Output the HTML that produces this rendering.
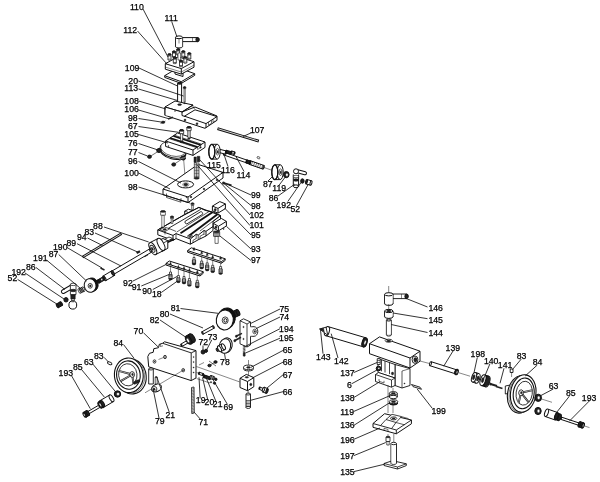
<!DOCTYPE html>
<html><head><meta charset="utf-8"><title>Parts diagram</title>
<style>
html,body{margin:0;padding:0;background:#fff}
svg{display:block;will-change:transform;filter:blur(0.4px)}
text{font-family:"Liberation Sans",sans-serif;font-size:8.7px;fill:#000;stroke:#000;stroke-width:0.25px}
</style></head><body>
<svg width="600" height="482" viewBox="0 0 600 482">
<rect width="600" height="482" fill="#fff"/>
<path d="M179 46L179 53" stroke="#111" stroke-width="0.5" fill="none"/>
<path d="M181 37.6L197.5 37.6L197.5 41.6L181 41.6Z" stroke="#111" stroke-width="1.0" fill="#fff" stroke-linejoin="round"/>
<ellipse cx="197.6" cy="39.6" rx="1.7" ry="2.1" fill="#222" stroke="#111" stroke-width="1.0"/>
<path d="M192.5 37.6L192.5 41.6" stroke="#111" stroke-width="0.5" fill="none"/>
<path d="M175.5 37.3L182.6 37.3L182.6 46.6L175.5 46.6Z" stroke="#111" stroke-width="0" fill="#fff" stroke-linejoin="round"/>
<path d="M175.5 37.3L175.5 46.6" stroke="#111" stroke-width="1.0" fill="none"/>
<path d="M182.6 37.3L182.6 46.6" stroke="#111" stroke-width="1.0" fill="none"/>
<ellipse cx="179" cy="46.6" rx="3.5" ry="1.4" fill="#fff" stroke="#111" stroke-width="1.0"/>
<path d="M175.9 37.5L182.2 37.5L182.2 46.3L175.9 46.3Z" stroke="#111" stroke-width="0" fill="#fff" stroke-linejoin="round"/>
<ellipse cx="179" cy="37.3" rx="3.5" ry="1.4" fill="#fff" stroke="#111" stroke-width="1.0"/>
<path d="M179 39L179 43.5" stroke="#111" stroke-width="0.5" fill="none"/>
<path d="M164.7 75.7L178.1 67.7L194.7 73.7L194.7 75.4L181.3 83.4L164.7 77.4Z" stroke="#111" stroke-width="1.0" fill="#fff" stroke-linejoin="round"/>
<path d="M164.7 75.7L181.3 81.7L194.7 73.7" stroke="#111" stroke-width="1.0" fill="none" stroke-linejoin="round"/>
<path d="M181.3 81.7L181.3 83.4" stroke="#111" stroke-width="1.0" fill="none"/>
<path d="M175 70L183 72.5L183 76.5L175 74Z" stroke="#111" stroke-width="1.0" fill="#fff" stroke-linejoin="round"/>
<path d="M165.3 63.7L178 56.8L194 61.7L194 67.2L181.3 74.1L165.3 69.2Z" stroke="#111" stroke-width="1.0" fill="#fff" stroke-linejoin="round"/>
<path d="M165.3 63.7L181.3 68.6L194 61.7" stroke="#111" stroke-width="1.0" fill="none" stroke-linejoin="round"/>
<path d="M181.3 68.6L181.3 74.1" stroke="#111" stroke-width="1.0" fill="none"/>
<path d="M181.3 72L194 65.1" stroke="#111" stroke-width="0.5" fill="none"/>
<path d="M165.3 67.1L181.3 72" stroke="#111" stroke-width="0.5" fill="none"/>
<path d="M176.7 49.5L179.7 49.5L179.7 54.8L176.7 54.8Z" stroke="#111" stroke-width="0.8" fill="#fff" stroke-linejoin="round"/>
<ellipse cx="178.2" cy="54.8" rx="1.5" ry="0.6" fill="#fff" stroke="#111" stroke-width="0.6"/>
<ellipse cx="178.2" cy="49.5" rx="1.5" ry="0.9" fill="#222" stroke="#111" stroke-width="0.8"/>
<path d="M176.7 51.1L179.7 51.1" stroke="#111" stroke-width="0.5" fill="none"/>
<path d="M172.5 51.7L175.5 51.7L175.5 57L172.5 57Z" stroke="#111" stroke-width="0.8" fill="#fff" stroke-linejoin="round"/>
<ellipse cx="174" cy="57" rx="1.5" ry="0.6" fill="#fff" stroke="#111" stroke-width="0.6"/>
<ellipse cx="174" cy="51.7" rx="1.5" ry="0.9" fill="#222" stroke="#111" stroke-width="0.8"/>
<path d="M172.5 53.3L175.5 53.3" stroke="#111" stroke-width="0.5" fill="none"/>
<path d="M181.8 51.5L184.8 51.5L184.8 56.8L181.8 56.8Z" stroke="#111" stroke-width="0.8" fill="#fff" stroke-linejoin="round"/>
<ellipse cx="183.3" cy="56.8" rx="1.5" ry="0.6" fill="#fff" stroke="#111" stroke-width="0.6"/>
<ellipse cx="183.3" cy="51.5" rx="1.5" ry="0.9" fill="#222" stroke="#111" stroke-width="0.8"/>
<path d="M181.8 53.1L184.8 53.1" stroke="#111" stroke-width="0.5" fill="none"/>
<path d="M168 54.4L171 54.4L171 59.7L168 59.7Z" stroke="#111" stroke-width="0.8" fill="#fff" stroke-linejoin="round"/>
<ellipse cx="169.5" cy="59.7" rx="1.5" ry="0.6" fill="#fff" stroke="#111" stroke-width="0.6"/>
<ellipse cx="169.5" cy="54.4" rx="1.5" ry="0.9" fill="#222" stroke="#111" stroke-width="0.8"/>
<path d="M168 56L171 56" stroke="#111" stroke-width="0.5" fill="none"/>
<path d="M187.8 53.5L190.8 53.5L190.8 58.8L187.8 58.8Z" stroke="#111" stroke-width="0.8" fill="#fff" stroke-linejoin="round"/>
<ellipse cx="189.3" cy="58.8" rx="1.5" ry="0.6" fill="#fff" stroke="#111" stroke-width="0.6"/>
<ellipse cx="189.3" cy="53.5" rx="1.5" ry="0.9" fill="#222" stroke="#111" stroke-width="0.8"/>
<path d="M187.8 55.1L190.8 55.1" stroke="#111" stroke-width="0.5" fill="none"/>
<path d="M173.3 57.8L176.3 57.8L176.3 63.1L173.3 63.1Z" stroke="#111" stroke-width="0.8" fill="#fff" stroke-linejoin="round"/>
<ellipse cx="174.8" cy="63.1" rx="1.5" ry="0.6" fill="#fff" stroke="#111" stroke-width="0.6"/>
<ellipse cx="174.8" cy="57.8" rx="1.5" ry="0.9" fill="#222" stroke="#111" stroke-width="0.8"/>
<path d="M173.3 59.4L176.3 59.4" stroke="#111" stroke-width="0.5" fill="none"/>
<path d="M183.8 57.4L186.8 57.4L186.8 62.7L183.8 62.7Z" stroke="#111" stroke-width="0.8" fill="#fff" stroke-linejoin="round"/>
<ellipse cx="185.3" cy="62.7" rx="1.5" ry="0.6" fill="#fff" stroke="#111" stroke-width="0.6"/>
<ellipse cx="185.3" cy="57.4" rx="1.5" ry="0.9" fill="#222" stroke="#111" stroke-width="0.8"/>
<path d="M183.8 59L186.8 59" stroke="#111" stroke-width="0.5" fill="none"/>
<path d="M179.5 60.9L182.5 60.9L182.5 66.2L179.5 66.2Z" stroke="#111" stroke-width="0.8" fill="#fff" stroke-linejoin="round"/>
<ellipse cx="181" cy="66.2" rx="1.5" ry="0.6" fill="#fff" stroke="#111" stroke-width="0.6"/>
<ellipse cx="181" cy="60.9" rx="1.5" ry="0.9" fill="#222" stroke="#111" stroke-width="0.8"/>
<path d="M179.5 62.5L182.5 62.5" stroke="#111" stroke-width="0.5" fill="none"/>
<path d="M178 53L180.6 53L180.6 60L178 60Z" stroke="#111" stroke-width="0.6" fill="#fff" stroke-linejoin="round"/>
<path d="M177.6 83.3L181.6 83.3L181.6 104L177.6 104Z" stroke="#111" stroke-width="0" fill="#fff" stroke-linejoin="round"/>
<path d="M177.6 83.3L177.6 104" stroke="#111" stroke-width="1.0" fill="none"/>
<path d="M181.6 83.3L181.6 104" stroke="#111" stroke-width="1.0" fill="none"/>
<ellipse cx="179.6" cy="83.3" rx="2" ry="0.9" fill="#222" stroke="#111" stroke-width="1.0"/>
<path d="M184 88.6L185.2 88.6L185.2 102L184 102Z" stroke="#111" stroke-width="0.6" fill="#fff" stroke-linejoin="round"/>
<path d="M183.4 87.4L185.8 87.4L185.8 88.6L183.4 88.6Z" stroke="#111" stroke-width="0.6" fill="#fff" stroke-linejoin="round"/>
<ellipse cx="184.6" cy="87.4" rx="1.2" ry="0.9" fill="#222" stroke="#111" stroke-width="0.6"/>
<path d="M182 112L195 107L217 116L217 120.3L205 128.3L165 115.3L165 107Z" stroke="#111" stroke-width="1.0" fill="#fff" stroke-linejoin="round"/>
<path d="M165 107L175 101L193 105L182 112Z" stroke="#111" stroke-width="1.0" fill="#fff" stroke-linejoin="round"/>
<path d="M165 107L182 112L182 116.5L165 115.3Z" stroke="#111" stroke-width="0" fill="#fff" stroke-linejoin="round"/>
<path d="M165 107L182 112L193 105" stroke="#111" stroke-width="1.0" fill="none" stroke-linejoin="round"/>
<path d="M182 112L182 115.5L185 116.5" stroke="#111" stroke-width="1.0" fill="none" stroke-linejoin="round"/>
<path d="M193 105L193 107.7L195 108.3" stroke="#111" stroke-width="0.6" fill="none" stroke-linejoin="round"/>
<path d="M184.5 116.2L195 109.8L217 116.6L206 123.6L184.5 116.2" stroke="#111" stroke-width="1.0" fill="none" stroke-linejoin="round"/>
<path d="M206 123.6L206 128" stroke="#111" stroke-width="1.0" fill="none"/>
<path d="M165 107L165 115.3" stroke="#111" stroke-width="1.0" fill="none"/>
<path d="M208.5 122L208.5 125.2L211.5 123.3L211.5 120.3" stroke="#111" stroke-width="0.6" fill="none" stroke-linejoin="round"/>
<path d="M213 119.2L213 122.4L215.3 120.8" stroke="#111" stroke-width="0.6" fill="none" stroke-linejoin="round"/>
<ellipse cx="185" cy="120" rx="1" ry="1" fill="#222" stroke="#111" stroke-width="0.4"/>
<ellipse cx="197" cy="123.7" rx="1" ry="1" fill="#222" stroke="#111" stroke-width="0.4"/>
<ellipse cx="179.6" cy="104.6" rx="2" ry="0.9" fill="#222" stroke="#111" stroke-width="0.5"/>
<ellipse cx="184.6" cy="103.2" rx="1" ry="0.5" fill="#222" stroke="#111" stroke-width="0.4"/>
<ellipse cx="175" cy="111" rx="0.5" ry="0.5" fill="#222" stroke="#111" stroke-width="0.3"/>
<ellipse cx="163" cy="122.3" rx="1.8" ry="1.3" fill="#222" stroke="#111" stroke-width="0.4"/>
<path d="M160.5 123.5L165.5 121" stroke="#111" stroke-width="0.6" fill="none"/>
<path d="M168 119L173 117.2" stroke="#222" stroke-width="1.6" fill="none"/>
<path d="M217.5 128.6L258.8 141.2" stroke="#111" stroke-width="2.8" fill="none"/>
<path d="M218.3 128.8L258 140.9" stroke="#e8e8e8" stroke-width="0.9" fill="none"/>
<path d="M180.6 133.6L182.6 133.6L182.6 140L180.6 140Z" stroke="#111" stroke-width="0.6" fill="#fff" stroke-linejoin="round"/>
<path d="M179.6 130.4L183.6 130.4L183.6 133.6L179.6 133.6Z" stroke="#111" stroke-width="0.6" fill="#fff" stroke-linejoin="round"/>
<ellipse cx="181.6" cy="130.4" rx="2" ry="0.9" fill="#222" stroke="#111" stroke-width="0.6"/>
<path d="M188 130.6L190 130.6L190 137L188 137Z" stroke="#111" stroke-width="0.6" fill="#fff" stroke-linejoin="round"/>
<path d="M187 127.4L191 127.4L191 130.6L187 130.6Z" stroke="#111" stroke-width="0.6" fill="#fff" stroke-linejoin="round"/>
<ellipse cx="189" cy="127.4" rx="2" ry="0.9" fill="#222" stroke="#111" stroke-width="0.6"/>
<ellipse cx="173" cy="151.6" rx="13.2" ry="7.4" fill="#fff" stroke="#111" stroke-width="1.0" transform="rotate(14 173 151.6)"/>
<ellipse cx="173" cy="150.3" rx="13.2" ry="7.4" fill="#fff" stroke="#111" stroke-width="1.0" transform="rotate(14 173 150.3)"/>
<ellipse cx="173" cy="149" rx="12.6" ry="7" fill="#fff" stroke="#111" stroke-width="0.6" transform="rotate(14 173 149)"/>
<ellipse cx="159" cy="150.5" rx="2.3" ry="2" fill="#222" stroke="#111" stroke-width="1.0"/>
<ellipse cx="183.2" cy="158" rx="2.3" ry="2" fill="#222" stroke="#111" stroke-width="1.0"/>
<path d="M181 158.5L185.5 157.5" stroke="#fff" stroke-width="0.5" fill="none"/>
<path d="M150 156.5L158 151.5" stroke="#111" stroke-width="0.6" fill="none"/>
<ellipse cx="149.5" cy="156.7" rx="1.9" ry="1.6" fill="#222" stroke="#111" stroke-width="1.0"/>
<path d="M174 164.3L182 159" stroke="#111" stroke-width="0.6" fill="none"/>
<ellipse cx="173.7" cy="164.5" rx="1.9" ry="1.6" fill="#222" stroke="#111" stroke-width="1.0"/>
<path d="M165.6 141L177.6 133L205 142L205 147.4L193 155.4L165.6 146.4Z" stroke="#111" stroke-width="1.0" fill="#fff" stroke-linejoin="round"/>
<path d="M165.6 141L193 150L205 142" stroke="#111" stroke-width="1.0" fill="none" stroke-linejoin="round"/>
<path d="M193 150L193 155.4" stroke="#111" stroke-width="1.0" fill="none"/>
<path d="M169.2 138.6L196.6 147.6" stroke="#111" stroke-width="0.7" fill="none"/>
<path d="M170.2 138L197.6 147" stroke="#111" stroke-width="1.6" fill="none"/>
<path d="M173.3 135.9L200.7 144.9" stroke="#111" stroke-width="1.6" fill="none"/>
<path d="M174.2 135.2L201.6 144.2" stroke="#111" stroke-width="0.7" fill="none"/>
<path d="M197.6 147L197.6 149.5L200.7 147.4L200.7 144.9" stroke="#111" stroke-width="0.6" fill="none" stroke-linejoin="round"/>
<ellipse cx="200.5" cy="147.5" rx="0.8" ry="0.8" fill="#222" stroke="#111" stroke-width="0.3"/>
<ellipse cx="168.5" cy="146" rx="0.6" ry="0.6" fill="#222" stroke="#111" stroke-width="0.3"/>
<path d="M180.6 133.6L182.6 133.6L182.6 141L180.6 141Z" stroke="#111" stroke-width="0.6" fill="#fff" stroke-linejoin="round"/>
<path d="M179.6 130.4L183.6 130.4L183.6 133.6L179.6 133.6Z" stroke="#111" stroke-width="0.6" fill="#fff" stroke-linejoin="round"/>
<ellipse cx="181.6" cy="130.4" rx="2" ry="0.9" fill="#222" stroke="#111" stroke-width="0.6"/>
<path d="M188 130.6L190 130.6L190 138L188 138Z" stroke="#111" stroke-width="0.6" fill="#fff" stroke-linejoin="round"/>
<path d="M187 127.4L191 127.4L191 130.6L187 130.6Z" stroke="#111" stroke-width="0.6" fill="#fff" stroke-linejoin="round"/>
<ellipse cx="189" cy="127.4" rx="2" ry="0.9" fill="#222" stroke="#111" stroke-width="0.6"/>
<ellipse cx="181.6" cy="141.8" rx="1.7" ry="0.9" fill="#222" stroke="#111" stroke-width="0.4"/>
<ellipse cx="189" cy="138.6" rx="1.4" ry="0.7" fill="#222" stroke="#111" stroke-width="0.4"/>
<path d="M183.7 160L185.6 183" stroke="#111" stroke-width="0.5" fill="none"/>
<path d="M163 189L198 164.4L223 172.4L223 178L188 202.6L163 194.6Z" stroke="#111" stroke-width="1.0" fill="#fff" stroke-linejoin="round"/>
<path d="M163 189L188 197L223 172.4" stroke="#111" stroke-width="1.0" fill="none" stroke-linejoin="round"/>
<path d="M188 197L188 202.6" stroke="#111" stroke-width="1.0" fill="none"/>
<path d="M166.5 193.5L166.5 197.5L181 202.2L181 198.2" stroke="#111" stroke-width="0.7" fill="none" stroke-linejoin="round"/>
<ellipse cx="185.6" cy="184.4" rx="8" ry="3.5" fill="#fff" stroke="#111" stroke-width="1.0"/>
<ellipse cx="185.8" cy="184.6" rx="1.9" ry="1.3" fill="#222" stroke="#111" stroke-width="0.5"/>
<ellipse cx="185.8" cy="184.6" rx="3.2" ry="1.9" fill="none" stroke="#111" stroke-width="0.4"/>
<ellipse cx="204" cy="189" rx="0.9" ry="0.9" fill="#222" stroke="#111" stroke-width="0.3"/>
<ellipse cx="217" cy="180" rx="0.9" ry="0.9" fill="#222" stroke="#111" stroke-width="0.3"/>
<ellipse cx="191" cy="197" rx="0.9" ry="0.9" fill="#222" stroke="#111" stroke-width="0.3"/>
<ellipse cx="186.5" cy="197.3" rx="0.5" ry="0.5" fill="#222" stroke="#111" stroke-width="0.3"/>
<path d="M194.3 163L199 163L199 178L194.3 178Z" stroke="#111" stroke-width="0.6" fill="#fff" stroke-linejoin="round"/>
<path d="M194.3 164.5L199 164.5" stroke="#111" stroke-width="0.5" fill="none"/>
<path d="M194.3 166L199 166" stroke="#111" stroke-width="0.5" fill="none"/>
<path d="M194.3 167.5L199 167.5" stroke="#111" stroke-width="0.5" fill="none"/>
<path d="M194.3 169L199 169" stroke="#111" stroke-width="0.5" fill="none"/>
<path d="M194.3 170.5L199 170.5" stroke="#111" stroke-width="0.5" fill="none"/>
<path d="M194.3 172L199 172" stroke="#111" stroke-width="0.5" fill="none"/>
<path d="M194.3 173.5L199 173.5" stroke="#111" stroke-width="0.5" fill="none"/>
<path d="M194.3 175L199 175" stroke="#111" stroke-width="0.5" fill="none"/>
<path d="M194.3 176.5L199 176.5" stroke="#111" stroke-width="0.5" fill="none"/>
<path d="M196.6 163L196.6 178" stroke="#111" stroke-width="0.5" fill="none"/>
<ellipse cx="196.6" cy="178.3" rx="2.6" ry="1" fill="#222" stroke="#111" stroke-width="0.4"/>
<path d="M194 157L196.3 157L196.3 162.5L194 162.5Z" stroke="#111" stroke-width="0.5" fill="#222" stroke-linejoin="round"/>
<path d="M197.2 156.3L199.8 156.3L199.8 161.8L197.2 161.8Z" stroke="#111" stroke-width="0.5" fill="#222" stroke-linejoin="round"/>
<path d="M224 183.2L231.5 185.3" stroke="#222" stroke-width="1.8" fill="none"/>
<ellipse cx="223.5" cy="183" rx="1.3" ry="1.3" fill="#222" stroke="#111" stroke-width="0.3"/>
<path d="M223.6 154.9L261.6 168.1L262.4 165.5L224.4 152.3Z" stroke="#111" stroke-width="0" fill="#fff" stroke-linejoin="round"/>
<path d="M223.6 154.9L261.6 168.1" stroke="#111" stroke-width="1.0" fill="none"/>
<path d="M224.4 152.3L262.4 165.5" stroke="#111" stroke-width="1.0" fill="none"/>
<ellipse cx="262" cy="166.8" rx="0.5" ry="1.4" fill="#fff" stroke="#111" stroke-width="1.0" transform="rotate(19.2 262 166.8)"/>
<ellipse cx="224" cy="153.6" rx="0.5" ry="1.4" fill="#fff" stroke="#111" stroke-width="1.0" transform="rotate(19.2 224 153.6)"/>
<path d="M249.4 164.4L262.9 169.1L264.1 165.5L250.6 160.8Z" stroke="#111" stroke-width="0" fill="#fff" stroke-linejoin="round"/>
<path d="M249.4 164.4L262.9 169.1" stroke="#111" stroke-width="1.0" fill="none"/>
<path d="M250.6 160.8L264.1 165.5" stroke="#111" stroke-width="1.0" fill="none"/>
<ellipse cx="263.5" cy="167.3" rx="0.6" ry="1.9" fill="#fff" stroke="#111" stroke-width="1.0" transform="rotate(19.2 263.5 167.3)"/>
<ellipse cx="250" cy="162.6" rx="0.6" ry="1.9" fill="#fff" stroke="#111" stroke-width="1.0" transform="rotate(19.2 250 162.6)"/>
<path d="M252.6 161.4L251.4 165.2" stroke="#111" stroke-width="0.6" fill="none"/>
<path d="M254.7 162.1L253.5 165.9" stroke="#111" stroke-width="0.6" fill="none"/>
<path d="M256.7 162.8L255.5 166.6" stroke="#111" stroke-width="0.6" fill="none"/>
<path d="M258.7 163.5L257.5 167.3" stroke="#111" stroke-width="0.6" fill="none"/>
<path d="M260.7 164.2L259.5 168" stroke="#111" stroke-width="0.6" fill="none"/>
<path d="M262.8 164.9L261.5 168.7" stroke="#111" stroke-width="0.6" fill="none"/>
<path d="M246 162.9L249.5 164.1L250.5 161.1L247 159.9Z" stroke="#111" stroke-width="0" fill="#222" stroke-linejoin="round"/>
<path d="M246 162.9L249.5 164.1" stroke="#111" stroke-width="1.0" fill="none"/>
<path d="M247 159.9L250.5 161.1" stroke="#111" stroke-width="1.0" fill="none"/>
<ellipse cx="250" cy="162.6" rx="0.5" ry="1.6" fill="#222" stroke="#111" stroke-width="1.0" transform="rotate(18.9 250 162.6)"/>
<ellipse cx="246.5" cy="161.4" rx="0.5" ry="1.6" fill="#222" stroke="#111" stroke-width="1.0" transform="rotate(18.9 246.5 161.4)"/>
<path d="M263.5 167.3L272 170.3" stroke="#111" stroke-width="0.5" fill="none"/>
<ellipse cx="258.5" cy="157.7" rx="1.6" ry="1" fill="#fff" stroke="#111" stroke-width="0.6" transform="rotate(20 258.5 157.7)"/>
<path d="M218.6 152.4L225.6 154.2L226.4 151L219.4 149.2Z" stroke="#111" stroke-width="0" fill="#fff" stroke-linejoin="round"/>
<path d="M218.6 152.4L225.6 154.2" stroke="#111" stroke-width="1.0" fill="none"/>
<path d="M219.4 149.2L226.4 151" stroke="#111" stroke-width="1.0" fill="none"/>
<ellipse cx="226" cy="152.6" rx="0.6" ry="1.7" fill="#fff" stroke="#111" stroke-width="1.0" transform="rotate(14.4 226 152.6)"/>
<ellipse cx="219" cy="150.8" rx="0.6" ry="1.7" fill="#fff" stroke="#111" stroke-width="1.0" transform="rotate(14.4 219 150.8)"/>
<path d="M225.6 152.9L230.6 154.3L231.4 151.7L226.4 150.3Z" stroke="#111" stroke-width="0" fill="#222" stroke-linejoin="round"/>
<path d="M225.6 152.9L230.6 154.3" stroke="#111" stroke-width="1.0" fill="none"/>
<path d="M226.4 150.3L231.4 151.7" stroke="#111" stroke-width="1.0" fill="none"/>
<ellipse cx="231" cy="153" rx="0.5" ry="1.4" fill="#222" stroke="#111" stroke-width="1.0" transform="rotate(15.6 231 153)"/>
<ellipse cx="226" cy="151.6" rx="0.5" ry="1.4" fill="#222" stroke="#111" stroke-width="1.0" transform="rotate(15.6 226 151.6)"/>
<path d="M231.1 153.5L234.1 154.4L234.9 152L231.9 151.1Z" stroke="#111" stroke-width="0" fill="#fff" stroke-linejoin="round"/>
<path d="M231.1 153.5L234.1 154.4" stroke="#111" stroke-width="1.0" fill="none"/>
<path d="M231.9 151.1L234.9 152" stroke="#111" stroke-width="1.0" fill="none"/>
<ellipse cx="234.5" cy="153.2" rx="0.5" ry="1.3" fill="#fff" stroke="#111" stroke-width="1.0" transform="rotate(16.7 234.5 153.2)"/>
<ellipse cx="231.5" cy="152.3" rx="0.5" ry="1.3" fill="#fff" stroke="#111" stroke-width="1.0" transform="rotate(16.7 231.5 152.3)"/>
<path d="M211.8 159.1L217.2 159.1L217.2 144.3L211.8 144.3Z" stroke="#111" stroke-width="0" fill="#fff" stroke-linejoin="round"/>
<path d="M211.8 159.1L217.2 159.1" stroke="#111" stroke-width="1.0" fill="none"/>
<path d="M211.8 144.3L217.2 144.3" stroke="#111" stroke-width="1.0" fill="none"/>
<ellipse cx="217.2" cy="151.7" rx="3" ry="7.4" fill="#fff" stroke="#111" stroke-width="1.0"/>
<ellipse cx="211.8" cy="151.7" rx="3" ry="7.4" fill="#fff" stroke="#111" stroke-width="1.0"/>
<ellipse cx="211.8" cy="151.7" rx="3" ry="7.4" fill="none" stroke="#111" stroke-width="1.2"/>
<ellipse cx="217.5" cy="151.7" rx="1.5" ry="3.3" fill="#fff" stroke="#111" stroke-width="0.7"/>
<ellipse cx="217.7" cy="151.9" rx="0.7" ry="1.4" fill="#222" stroke="#111" stroke-width="0.3"/>
<path d="M274.8 179.6L280.2 179.6L280.2 164.8L274.8 164.8Z" stroke="#111" stroke-width="0" fill="#fff" stroke-linejoin="round"/>
<path d="M274.8 179.6L280.2 179.6" stroke="#111" stroke-width="1.0" fill="none"/>
<path d="M274.8 164.8L280.2 164.8" stroke="#111" stroke-width="1.0" fill="none"/>
<ellipse cx="280.2" cy="172.2" rx="3" ry="7.4" fill="#fff" stroke="#111" stroke-width="1.0"/>
<ellipse cx="274.8" cy="172.2" rx="3" ry="7.4" fill="#fff" stroke="#111" stroke-width="1.0"/>
<ellipse cx="274.8" cy="172.2" rx="3" ry="7.4" fill="none" stroke="#111" stroke-width="1.2"/>
<ellipse cx="280.5" cy="172.2" rx="1.5" ry="3.3" fill="#fff" stroke="#111" stroke-width="0.7"/>
<ellipse cx="280.7" cy="172.4" rx="0.7" ry="1.4" fill="#222" stroke="#111" stroke-width="0.3"/>
<ellipse cx="286.3" cy="174.6" rx="2.8" ry="3.1" fill="#222" stroke="#111" stroke-width="1.0"/>
<ellipse cx="286.9" cy="174.8" rx="1.2" ry="1.6" fill="#fff" stroke="#111" stroke-width="0.3"/>
<path d="M297.5 171.2L305 173.3" stroke="#111" stroke-width="4" stroke-linecap="round" fill="none"/>
<path d="M297.5 171.2L305 173.3" stroke="#fff" stroke-width="2" stroke-linecap="round" fill="none"/>
<ellipse cx="296" cy="171.3" rx="2.5" ry="2.5" fill="#fff" stroke="#111" stroke-width="1.0"/>
<path d="M293.3 174.5L298.6 174.5L298.6 186L293.3 186Z" stroke="#111" stroke-width="0" fill="#fff" stroke-linejoin="round"/>
<path d="M293.3 174.5L293.3 186.3" stroke="#111" stroke-width="1.0" fill="none"/>
<path d="M298.6 174.5L298.6 186.3" stroke="#111" stroke-width="1.0" fill="none"/>
<ellipse cx="296" cy="186.3" rx="2.6" ry="1.4" fill="#fff" stroke="#111" stroke-width="1.0"/>
<ellipse cx="296" cy="176.5" rx="2.6" ry="1.2" fill="#fff" stroke="#111" stroke-width="0.6"/>
<ellipse cx="296" cy="180" rx="2.6" ry="1.2" fill="#222" stroke="#111" stroke-width="0.6"/>
<ellipse cx="302.4" cy="181" rx="1.7" ry="2.2" fill="#222" stroke="#111" stroke-width="1.0"/>
<path d="M305.9 183.9L310.4 185.2L311.6 180.8L307.1 179.5Z" stroke="#111" stroke-width="0" fill="#fff" stroke-linejoin="round"/>
<path d="M305.9 183.9L310.4 185.2" stroke="#111" stroke-width="1.0" fill="none"/>
<path d="M307.1 179.5L311.6 180.8" stroke="#111" stroke-width="1.0" fill="none"/>
<ellipse cx="311" cy="183" rx="0.9" ry="2.3" fill="#fff" stroke="#111" stroke-width="1.0" transform="rotate(16.1 311 183)"/>
<ellipse cx="306.5" cy="181.7" rx="0.9" ry="2.3" fill="#222" stroke="#111" stroke-width="1.0" transform="rotate(16.1 306.5 181.7)"/>
<path d="M184.7 214.6L184.7 211.2L188.5 209.2L195.5 211.6L195.5 213.5L190 216.5Z" stroke="#111" stroke-width="1.0" fill="#fff" stroke-linejoin="round"/>
<path d="M184.7 211.2L190 213L195.5 211.6" stroke="#111" stroke-width="0.7" fill="none" stroke-linejoin="round"/>
<path d="M190 213L190 216" stroke="#111" stroke-width="0.7" fill="none"/>
<path d="M157.8 229.9L184.7 214.6L198.9 207.4L220.5 215.6L220.5 219.8L213 226.5L213 230.5L206 236L198.2 239.8L190.4 244.2L176 238.6L173 240.4L157.8 234.8Z" stroke="#111" stroke-width="1.0" fill="#fff" stroke-linejoin="round"/>
<path d="M157.8 229.9L184.7 214.6L198.9 207.4L205 210.3L213.5 212.2L220.5 215.6L213 221.5L213 226.5L206 231.3L204 230.5L198.2 235.1L196.2 234.3L190.4 239L176 233.6L173 235.4L157.8 229.9" stroke="#111" stroke-width="1.0" fill="none" stroke-linejoin="round"/>
<path d="M173 235.4L173 240.4" stroke="#111" stroke-width="1.0" fill="none"/>
<path d="M190.4 239L190.4 244.2" stroke="#111" stroke-width="1.0" fill="none"/>
<path d="M206 231.3L206 236" stroke="#111" stroke-width="1.0" fill="none"/>
<path d="M176 233.6L176 238.6" stroke="#111" stroke-width="0.7" fill="none"/>
<path d="M204 230.5L204 235" stroke="#111" stroke-width="0.7" fill="none"/>
<path d="M198.2 235.1L198.2 239.8" stroke="#111" stroke-width="0.7" fill="none"/>
<path d="M196.2 234.3L196.2 238.8" stroke="#111" stroke-width="0.7" fill="none"/>
<path d="M168.5 228.3L200.8 209.3" stroke="#111" stroke-width="0.9" fill="none"/>
<path d="M168.5 228.3L176 231.4" stroke="#111" stroke-width="0.7" fill="none"/>
<path d="M212.5 212.3L180.5 233.2" stroke="#111" stroke-width="1.9" fill="none"/>
<path d="M217.2 214.5L188 236.6" stroke="#111" stroke-width="1.9" fill="none"/>
<path d="M209.8 211L176.5 232.2" stroke="#111" stroke-width="0.7" fill="none"/>
<path d="M219.5 216.2L200 231" stroke="#111" stroke-width="0.7" fill="none"/>
<path d="M185.2 221.2L200.7 211.7A1.8 1.8 0 0 1 202.4 214.4L186.9 223.9A1.8 1.8 0 0 1 185.2 221.2Z" fill="#fff" stroke="#111" stroke-width="0.9"/>
<path d="M160 229.7L164.5 227L169.5 228.8L165 231.6L160 229.7" stroke="#111" stroke-width="0.7" fill="none" stroke-linejoin="round"/>
<ellipse cx="164.7" cy="229.4" rx="1.7" ry="0.9" fill="#222" stroke="#111" stroke-width="0.4"/>
<path d="M165 231.6L165 234.5" stroke="#111" stroke-width="0.6" fill="none"/>
<ellipse cx="190.2" cy="236.2" rx="2.4" ry="1.2" fill="#fff" stroke="#111" stroke-width="0.8"/>
<ellipse cx="190.2" cy="236.2" rx="1.1" ry="0.6" fill="#222" stroke="#111" stroke-width="0.3"/>
<path d="M193 243L193 240.3L196.2 238.5" stroke="#111" stroke-width="0.7" fill="none" stroke-linejoin="round"/>
<path d="M200 239L200 236.3L204 234" stroke="#111" stroke-width="0.7" fill="none" stroke-linejoin="round"/>
<path d="M212.4 206.1L219.8 201.6L225.4 203.9L225.4 208.6L218 213.1L212.4 210.8Z" stroke="#111" stroke-width="1.0" fill="#fff" stroke-linejoin="round"/>
<path d="M212.4 206.1L218 208.4L225.4 203.9" stroke="#111" stroke-width="1.0" fill="none" stroke-linejoin="round"/>
<path d="M218 208.4L218 213.1" stroke="#111" stroke-width="1.0" fill="none"/>
<ellipse cx="215.2" cy="209.8" rx="1.1" ry="1.3" fill="#222" stroke="#111" stroke-width="0.4"/>
<path d="M213.3 223.3L221.3 218.4L226.4 221.4L226.4 226L218.4 230.9L213.3 227.9Z" stroke="#111" stroke-width="1.0" fill="#fff" stroke-linejoin="round"/>
<path d="M213.3 223.3L218.4 226.3L226.4 221.4" stroke="#111" stroke-width="1.0" fill="none" stroke-linejoin="round"/>
<path d="M218.4 226.3L218.4 230.9" stroke="#111" stroke-width="1.0" fill="none"/>
<ellipse cx="215.9" cy="227.3" rx="1.1" ry="1.3" fill="#222" stroke="#111" stroke-width="0.4"/>
<ellipse cx="223.6" cy="228.9" rx="0.6" ry="0.6" fill="#222" stroke="#111" stroke-width="0.3"/>
<path d="M161.8 215.2L164.2 215.2L164.2 227L161.8 227Z" stroke="#111" stroke-width="0.6" fill="#fff" stroke-linejoin="round"/>
<path d="M160.6 211.4L165.4 211.4L165.4 215.2L160.6 215.2Z" stroke="#111" stroke-width="0.6" fill="#fff" stroke-linejoin="round"/>
<ellipse cx="163" cy="211.4" rx="2.4" ry="0.9" fill="#222" stroke="#111" stroke-width="0.6"/>
<path d="M171.2 218.6L172.8 218.6L172.8 223.5L171.2 223.5Z" stroke="#111" stroke-width="0.6" fill="#fff" stroke-linejoin="round"/>
<path d="M170.5 216.8L173.5 216.8L173.5 218.6L170.5 218.6Z" stroke="#111" stroke-width="0.6" fill="#fff" stroke-linejoin="round"/>
<ellipse cx="172" cy="216.8" rx="1.5" ry="0.9" fill="#222" stroke="#111" stroke-width="0.6"/>
<path d="M191.7 205.3L193.3 205.3L193.3 209.6L191.7 209.6Z" stroke="#111" stroke-width="0.6" fill="#fff" stroke-linejoin="round"/>
<path d="M191.1 203.6L193.9 203.6L193.9 205.3L191.1 205.3Z" stroke="#111" stroke-width="0.6" fill="#fff" stroke-linejoin="round"/>
<ellipse cx="192.5" cy="203.6" rx="1.4" ry="0.9" fill="#222" stroke="#111" stroke-width="0.6"/>
<path d="M215 236.2L218.2 236.2L218.2 243.4L215 243.4Z" stroke="#111" stroke-width="0.6" fill="#fff" stroke-linejoin="round"/>
<path d="M213.5 231.8L219.7 231.8L219.7 236.2L213.5 236.2Z" stroke="#111" stroke-width="0.6" fill="#fff" stroke-linejoin="round"/>
<ellipse cx="216.6" cy="231.8" rx="3.1" ry="0.9" fill="#222" stroke="#111" stroke-width="0.6"/>
<path d="M213.5 233.4L219.7 233.4" stroke="#111" stroke-width="0.6" fill="none"/>
<path d="M213.5 234.8L219.7 234.8" stroke="#111" stroke-width="0.6" fill="none"/>
<path d="M213.5 236.2L219.7 236.2" stroke="#111" stroke-width="0.6" fill="none"/>
<path d="M160.5 241.5L169 237L172.5 238.4L164 243Z" stroke="#111" stroke-width="0.8" fill="#fff" stroke-linejoin="round"/>
<path d="M162 245L174 239.2" stroke="#111" stroke-width="1.6" fill="none"/>
<path d="M156.5 241.5L163 238.5L167.8 240.7L167.8 248.3L162 251.5L156.5 249Z" stroke="#111" stroke-width="1.0" fill="#fff" stroke-linejoin="round"/>
<path d="M156.5 241.5L161.8 243.8L167.8 240.7" stroke="#111" stroke-width="0.8" fill="none" stroke-linejoin="round"/>
<path d="M155.8 254.5L164 250.3L158 238.5L149.8 242.7Z" stroke="#111" stroke-width="0" fill="#fff" stroke-linejoin="round"/>
<path d="M155.8 254.5L164 250.3" stroke="#111" stroke-width="1.0" fill="none"/>
<path d="M149.8 242.7L158 238.5" stroke="#111" stroke-width="1.0" fill="none"/>
<ellipse cx="161" cy="244.4" rx="2.8" ry="6.6" fill="#fff" stroke="#111" stroke-width="1.0" transform="rotate(-27.1 161 244.4)"/>
<ellipse cx="152.8" cy="248.6" rx="2.8" ry="6.6" fill="#fff" stroke="#111" stroke-width="1.0" transform="rotate(-27.1 152.8 248.6)"/>
<ellipse cx="152.5" cy="248.8" rx="1.9" ry="3.8" fill="#fff" stroke="#111" stroke-width="0.9" transform="rotate(-27 152.5 248.8)"/>
<ellipse cx="152.3" cy="248.9" rx="0.9" ry="1.8" fill="#222" stroke="#111" stroke-width="0.3" transform="rotate(-27 152.3 248.9)"/>
<ellipse cx="149.3" cy="250.6" rx="0.7" ry="0.7" fill="#222" stroke="#111" stroke-width="0.3"/>
<path d="M136.6 253L140 251.2" stroke="#222" stroke-width="2.2" fill="none"/>
<path d="M144 256.3L147.6 254.4" stroke="#222" stroke-width="2.2" fill="none"/>
<path d="M114 274.2L151.5 252.2L149.5 249L112 271Z" stroke="#111" stroke-width="0" fill="#fff" stroke-linejoin="round"/>
<path d="M114 274.2L151.5 252.2" stroke="#111" stroke-width="1.0" fill="none"/>
<path d="M112 271L149.5 249" stroke="#111" stroke-width="1.0" fill="none"/>
<ellipse cx="150.5" cy="250.6" rx="0.7" ry="1.9" fill="#fff" stroke="#111" stroke-width="1.0" transform="rotate(-30.4 150.5 250.6)"/>
<ellipse cx="113" cy="272.6" rx="0.7" ry="1.9" fill="#fff" stroke="#111" stroke-width="1.0" transform="rotate(-30.4 113 272.6)"/>
<path d="M105.9 280.6L114.4 275.5L111.6 270.9L103.1 276Z" stroke="#111" stroke-width="0" fill="#fff" stroke-linejoin="round"/>
<path d="M105.9 280.6L114.4 275.5" stroke="#111" stroke-width="1.0" fill="none"/>
<path d="M103.1 276L111.6 270.9" stroke="#111" stroke-width="1.0" fill="none"/>
<ellipse cx="113" cy="273.2" rx="1" ry="2.7" fill="#fff" stroke="#111" stroke-width="1.0" transform="rotate(-31 113 273.2)"/>
<ellipse cx="104.5" cy="278.3" rx="1" ry="2.7" fill="#fff" stroke="#111" stroke-width="1.0" transform="rotate(-31 104.5 278.3)"/>
<ellipse cx="112.6" cy="273.4" rx="1" ry="2.7" fill="#222" stroke="#111" stroke-width="0.5" transform="rotate(-31 112.6 273.4)"/>
<path d="M99.2 283.1L104.9 279.8L103.1 276.8L97.4 280.1Z" stroke="#111" stroke-width="0" fill="#222" stroke-linejoin="round"/>
<path d="M99.2 283.1L104.9 279.8" stroke="#111" stroke-width="1.0" fill="none"/>
<path d="M97.4 280.1L103.1 276.8" stroke="#111" stroke-width="1.0" fill="none"/>
<ellipse cx="104" cy="278.3" rx="0.7" ry="1.7" fill="#222" stroke="#111" stroke-width="1.0" transform="rotate(-30.1 104 278.3)"/>
<ellipse cx="98.3" cy="281.6" rx="0.7" ry="1.7" fill="#222" stroke="#111" stroke-width="1.0" transform="rotate(-30.1 98.3 281.6)"/>
<ellipse cx="101.8" cy="279.6" rx="0.8" ry="1" fill="#fff" stroke="#111" stroke-width="0.2"/>
<path d="M100.5 268L104.5 270" stroke="#222" stroke-width="1.4" fill="none"/>
<path d="M82.5 257.2L121.5 233.6" stroke="#111" stroke-width="2.7" fill="none"/>
<path d="M83.3 256.7L120.7 234.1" stroke="#e8e8e8" stroke-width="0.9" fill="none"/>
<ellipse cx="92.2" cy="284.7" rx="5.9" ry="6.8" fill="#111" stroke="#111" stroke-width="0.9" transform="rotate(-12 92.2 284.7)"/>
<ellipse cx="90.1" cy="285.5" rx="5.9" ry="6.8" fill="#fff" stroke="#111" stroke-width="1.0" transform="rotate(-12 90.1 285.5)"/>
<ellipse cx="90.2" cy="285.8" rx="2.1" ry="2.4" fill="#fff" stroke="#111" stroke-width="0.8"/>
<ellipse cx="90.3" cy="285.9" rx="0.9" ry="1.1" fill="#222" stroke="#111" stroke-width="0.3"/>
<ellipse cx="79.5" cy="291" rx="1.1" ry="2.6" fill="none" stroke="#111" stroke-width="0.7" transform="rotate(-25 79.5 291)"/>
<ellipse cx="80.8" cy="290.4" rx="1.1" ry="2.6" fill="none" stroke="#111" stroke-width="0.7" transform="rotate(-25 80.8 290.4)"/>
<ellipse cx="82.1" cy="289.8" rx="1.1" ry="2.6" fill="none" stroke="#111" stroke-width="0.7" transform="rotate(-25 82.1 289.8)"/>
<ellipse cx="83.4" cy="289.2" rx="1.1" ry="2.6" fill="none" stroke="#111" stroke-width="0.7" transform="rotate(-25 83.4 289.2)"/>
<path d="M63.3 291.6L71 287.2" stroke="#111" stroke-width="4.8" stroke-linecap="round" fill="none"/>
<path d="M63.3 291.6L71 287.2" stroke="#fff" stroke-width="2.8" stroke-linecap="round" fill="none"/>
<path d="M70.4 284.2L76 284.2L76 294.5L70.4 294.5Z" stroke="#111" stroke-width="0.8" fill="#fff" stroke-linejoin="round"/>
<ellipse cx="73.2" cy="284.4" rx="2.8" ry="1.2" fill="#fff" stroke="#111" stroke-width="0.7"/>
<ellipse cx="73.2" cy="290.5" rx="2.8" ry="1.2" fill="#222" stroke="#111" stroke-width="0.6"/>
<path d="M71.2 294.5L74.8 294.5L74.2 301L71.8 301Z" stroke="#111" stroke-width="0.7" fill="#fff" stroke-linejoin="round"/>
<path d="M70.8 295L75.2 295L75.2 299L70.8 299Z" stroke="#111" stroke-width="0.5" fill="#222" stroke-linejoin="round"/>
<ellipse cx="72.8" cy="305" rx="3.9" ry="4.1" fill="#fff" stroke="#111" stroke-width="1.0"/>
<path d="M71.5 301.8L74.3 301.8" stroke="#111" stroke-width="0.6" fill="none"/>
<ellipse cx="66" cy="299.8" rx="2.1" ry="2.2" fill="#222" stroke="#111" stroke-width="1.0"/>
<path d="M58.6 307.6L62.4 305.4L60.2 301.8L56.4 304Z" stroke="#111" stroke-width="0" fill="#222" stroke-linejoin="round"/>
<path d="M58.6 307.6L62.4 305.4" stroke="#111" stroke-width="1.0" fill="none"/>
<path d="M56.4 304L60.2 301.8" stroke="#111" stroke-width="1.0" fill="none"/>
<ellipse cx="61.3" cy="303.6" rx="0.9" ry="2.1" fill="#222" stroke="#111" stroke-width="1.0" transform="rotate(-30.1 61.3 303.6)"/>
<ellipse cx="57.5" cy="305.8" rx="0.9" ry="2.1" fill="#222" stroke="#111" stroke-width="1.0" transform="rotate(-30.1 57.5 305.8)"/>
<path d="M194 248.5L194 257.5" stroke="#111" stroke-width="0.5" fill="none"/>
<path d="M201.7 252L201.7 261" stroke="#111" stroke-width="0.5" fill="none"/>
<path d="M207.2 253.8L207.2 262.8" stroke="#111" stroke-width="0.5" fill="none"/>
<path d="M212.7 256.3L212.7 265.3" stroke="#111" stroke-width="0.5" fill="none"/>
<path d="M220.6 257.5L220.6 266.5" stroke="#111" stroke-width="0.5" fill="none"/>
<path d="M187.6 250.6L191.3 247.8L225.2 258.8L225.2 260.4L221.5 263.2L187.6 252.2Z" stroke="#111" stroke-width="1.0" fill="#fff" stroke-linejoin="round"/>
<path d="M187.6 250.6L221.5 261.6L225.2 258.8" stroke="#111" stroke-width="1.0" fill="none" stroke-linejoin="round"/>
<path d="M221.5 261.6L221.5 263.2" stroke="#111" stroke-width="0.6" fill="none"/>
<path d="M192.9 250.2L194 247.2L195.1 250.2Z" stroke="#111" stroke-width="0.3" fill="#222" stroke-linejoin="round"/>
<path d="M193 257.5L195 257.5L195 264L193 264Z" stroke="#111" stroke-width="0.7" fill="#fff" stroke-linejoin="round"/>
<path d="M192.4 259.9L195.6 259.9L195.6 264L192.4 264Z" stroke="#111" stroke-width="0.8" fill="#fff" stroke-linejoin="round"/>
<ellipse cx="194" cy="264" rx="1.6" ry="0.9" fill="#222" stroke="#111" stroke-width="0.5"/>
<path d="M192.4 261.1L195.6 261.1" stroke="#111" stroke-width="0.6" fill="none"/>
<path d="M192.4 262.3L195.6 262.3" stroke="#111" stroke-width="0.6" fill="none"/>
<path d="M200.6 253.7L201.7 250.7L202.8 253.7Z" stroke="#111" stroke-width="0.3" fill="#222" stroke-linejoin="round"/>
<path d="M200.7 261L202.7 261L202.7 268L200.7 268Z" stroke="#111" stroke-width="0.7" fill="#fff" stroke-linejoin="round"/>
<path d="M200.1 263.4L203.3 263.4L203.3 268L200.1 268Z" stroke="#111" stroke-width="0.8" fill="#fff" stroke-linejoin="round"/>
<ellipse cx="201.7" cy="268" rx="1.6" ry="0.9" fill="#222" stroke="#111" stroke-width="0.5"/>
<path d="M200.1 264.6L203.3 264.6" stroke="#111" stroke-width="0.6" fill="none"/>
<path d="M200.1 265.8L203.3 265.8" stroke="#111" stroke-width="0.6" fill="none"/>
<path d="M206.1 255.5L207.2 252.5L208.3 255.5Z" stroke="#111" stroke-width="0.3" fill="#222" stroke-linejoin="round"/>
<path d="M206.2 262.8L208.2 262.8L208.2 270L206.2 270Z" stroke="#111" stroke-width="0.7" fill="#fff" stroke-linejoin="round"/>
<path d="M205.6 265.2L208.8 265.2L208.8 270L205.6 270Z" stroke="#111" stroke-width="0.8" fill="#fff" stroke-linejoin="round"/>
<ellipse cx="207.2" cy="270" rx="1.6" ry="0.9" fill="#222" stroke="#111" stroke-width="0.5"/>
<path d="M205.6 266.4L208.8 266.4" stroke="#111" stroke-width="0.6" fill="none"/>
<path d="M205.6 267.6L208.8 267.6" stroke="#111" stroke-width="0.6" fill="none"/>
<path d="M211.6 258L212.7 255L213.8 258Z" stroke="#111" stroke-width="0.3" fill="#222" stroke-linejoin="round"/>
<path d="M211.7 265.3L213.7 265.3L213.7 271.7L211.7 271.7Z" stroke="#111" stroke-width="0.7" fill="#fff" stroke-linejoin="round"/>
<path d="M211.1 267.7L214.3 267.7L214.3 271.7L211.1 271.7Z" stroke="#111" stroke-width="0.8" fill="#fff" stroke-linejoin="round"/>
<ellipse cx="212.7" cy="271.7" rx="1.6" ry="0.9" fill="#222" stroke="#111" stroke-width="0.5"/>
<path d="M211.1 268.9L214.3 268.9" stroke="#111" stroke-width="0.6" fill="none"/>
<path d="M211.1 270.1L214.3 270.1" stroke="#111" stroke-width="0.6" fill="none"/>
<path d="M219.5 259.2L220.6 256.2L221.7 259.2Z" stroke="#111" stroke-width="0.3" fill="#222" stroke-linejoin="round"/>
<path d="M219.6 266.5L221.6 266.5L221.6 273.5L219.6 273.5Z" stroke="#111" stroke-width="0.7" fill="#fff" stroke-linejoin="round"/>
<path d="M219 268.9L222.2 268.9L222.2 273.5L219 273.5Z" stroke="#111" stroke-width="0.8" fill="#fff" stroke-linejoin="round"/>
<ellipse cx="220.6" cy="273.5" rx="1.6" ry="0.9" fill="#222" stroke="#111" stroke-width="0.5"/>
<path d="M219 270.1L222.2 270.1" stroke="#111" stroke-width="0.6" fill="none"/>
<path d="M219 271.3L222.2 271.3" stroke="#111" stroke-width="0.6" fill="none"/>
<path d="M170.5 263L170.5 272" stroke="#111" stroke-width="0.5" fill="none"/>
<path d="M178.4 266.5L178.4 275.5" stroke="#111" stroke-width="0.5" fill="none"/>
<path d="M184 267.5L184 276.5" stroke="#111" stroke-width="0.5" fill="none"/>
<path d="M189.4 269.5L189.4 278.5" stroke="#111" stroke-width="0.5" fill="none"/>
<path d="M197.3 271.3L197.3 280.3" stroke="#111" stroke-width="0.5" fill="none"/>
<path d="M166 263.4L169.3 261L203.2 271.7L203.2 273.3L200 276L166 265Z" stroke="#111" stroke-width="1.0" fill="#fff" stroke-linejoin="round"/>
<path d="M166 263.4L200 274.4L203.2 271.7" stroke="#111" stroke-width="1.0" fill="none" stroke-linejoin="round"/>
<path d="M200 274.4L200 276" stroke="#111" stroke-width="0.6" fill="none"/>
<path d="M169.4 264.7L170.5 261.7L171.6 264.7Z" stroke="#111" stroke-width="0.3" fill="#222" stroke-linejoin="round"/>
<path d="M169.5 272L171.5 272L171.5 279L169.5 279Z" stroke="#111" stroke-width="0.7" fill="#fff" stroke-linejoin="round"/>
<path d="M168.9 274.4L172.1 274.4L172.1 279L168.9 279Z" stroke="#111" stroke-width="0.8" fill="#fff" stroke-linejoin="round"/>
<ellipse cx="170.5" cy="279" rx="1.6" ry="0.9" fill="#222" stroke="#111" stroke-width="0.5"/>
<path d="M168.9 275.6L172.1 275.6" stroke="#111" stroke-width="0.6" fill="none"/>
<path d="M168.9 276.8L172.1 276.8" stroke="#111" stroke-width="0.6" fill="none"/>
<path d="M177.3 268.2L178.4 265.2L179.5 268.2Z" stroke="#111" stroke-width="0.3" fill="#222" stroke-linejoin="round"/>
<path d="M177.4 275.5L179.4 275.5L179.4 281.8L177.4 281.8Z" stroke="#111" stroke-width="0.7" fill="#fff" stroke-linejoin="round"/>
<path d="M176.8 277.9L180 277.9L180 281.8L176.8 281.8Z" stroke="#111" stroke-width="0.8" fill="#fff" stroke-linejoin="round"/>
<ellipse cx="178.4" cy="281.8" rx="1.6" ry="0.9" fill="#222" stroke="#111" stroke-width="0.5"/>
<path d="M176.8 279.1L180 279.1" stroke="#111" stroke-width="0.6" fill="none"/>
<path d="M176.8 280.3L180 280.3" stroke="#111" stroke-width="0.6" fill="none"/>
<path d="M182.9 269.2L184 266.2L185.1 269.2Z" stroke="#111" stroke-width="0.3" fill="#222" stroke-linejoin="round"/>
<path d="M183 276.5L185 276.5L185 283L183 283Z" stroke="#111" stroke-width="0.7" fill="#fff" stroke-linejoin="round"/>
<path d="M182.4 278.9L185.6 278.9L185.6 283L182.4 283Z" stroke="#111" stroke-width="0.8" fill="#fff" stroke-linejoin="round"/>
<ellipse cx="184" cy="283" rx="1.6" ry="0.9" fill="#222" stroke="#111" stroke-width="0.5"/>
<path d="M182.4 280.1L185.6 280.1" stroke="#111" stroke-width="0.6" fill="none"/>
<path d="M182.4 281.3L185.6 281.3" stroke="#111" stroke-width="0.6" fill="none"/>
<path d="M188.3 271.2L189.4 268.2L190.5 271.2Z" stroke="#111" stroke-width="0.3" fill="#222" stroke-linejoin="round"/>
<path d="M188.4 278.5L190.4 278.5L190.4 285.4L188.4 285.4Z" stroke="#111" stroke-width="0.7" fill="#fff" stroke-linejoin="round"/>
<path d="M187.8 280.9L191 280.9L191 285.4L187.8 285.4Z" stroke="#111" stroke-width="0.8" fill="#fff" stroke-linejoin="round"/>
<ellipse cx="189.4" cy="285.4" rx="1.6" ry="0.9" fill="#222" stroke="#111" stroke-width="0.5"/>
<path d="M187.8 282.1L191 282.1" stroke="#111" stroke-width="0.6" fill="none"/>
<path d="M187.8 283.3L191 283.3" stroke="#111" stroke-width="0.6" fill="none"/>
<path d="M196.2 273L197.3 270L198.4 273Z" stroke="#111" stroke-width="0.3" fill="#222" stroke-linejoin="round"/>
<path d="M196.3 280.3L198.3 280.3L198.3 287L196.3 287Z" stroke="#111" stroke-width="0.7" fill="#fff" stroke-linejoin="round"/>
<path d="M195.7 282.7L198.9 282.7L198.9 287L195.7 287Z" stroke="#111" stroke-width="0.8" fill="#fff" stroke-linejoin="round"/>
<ellipse cx="197.3" cy="287" rx="1.6" ry="0.9" fill="#222" stroke="#111" stroke-width="0.5"/>
<path d="M195.7 283.9L198.9 283.9" stroke="#111" stroke-width="0.6" fill="none"/>
<path d="M195.7 285.1L198.9 285.1" stroke="#111" stroke-width="0.6" fill="none"/>
<path d="M182.2 346.4L188.2 342.8L186.8 340.6L180.8 344.2Z" stroke="#111" stroke-width="0" fill="#fff" stroke-linejoin="round"/>
<path d="M182.2 346.4L188.2 342.8" stroke="#111" stroke-width="1.0" fill="none"/>
<path d="M180.8 344.2L186.8 340.6" stroke="#111" stroke-width="1.0" fill="none"/>
<ellipse cx="187.5" cy="341.7" rx="0.5" ry="1.3" fill="#fff" stroke="#111" stroke-width="1.0" transform="rotate(-31 187.5 341.7)"/>
<ellipse cx="181.5" cy="345.3" rx="0.5" ry="1.3" fill="#fff" stroke="#111" stroke-width="1.0" transform="rotate(-31 181.5 345.3)"/>
<path d="M191 344.1L194.4 342.1L189.6 333.9L186.2 335.9Z" stroke="#111" stroke-width="0" fill="#222" stroke-linejoin="round"/>
<path d="M191 344.1L194.4 342.1" stroke="#111" stroke-width="1.0" fill="none"/>
<path d="M186.2 335.9L189.6 333.9" stroke="#111" stroke-width="1.0" fill="none"/>
<ellipse cx="192" cy="338" rx="2.4" ry="4.7" fill="#222" stroke="#111" stroke-width="1.0" transform="rotate(-30.5 192 338)"/>
<ellipse cx="188.6" cy="340" rx="2.4" ry="4.7" fill="#222" stroke="#111" stroke-width="1.0" transform="rotate(-30.5 188.6 340)"/>
<ellipse cx="188" cy="340.5" rx="1.2" ry="2.6" fill="#fff" stroke="#111" stroke-width="0.5" transform="rotate(-28 188 340.5)"/>
<path d="M203.1 334.2L214.1 328.2L212.9 325.8L201.9 331.8Z" stroke="#111" stroke-width="0" fill="#fff" stroke-linejoin="round"/>
<path d="M203.1 334.2L214.1 328.2" stroke="#111" stroke-width="1.0" fill="none"/>
<path d="M201.9 331.8L212.9 325.8" stroke="#111" stroke-width="1.0" fill="none"/>
<ellipse cx="213.5" cy="327" rx="0.6" ry="1.4" fill="#fff" stroke="#111" stroke-width="1.0" transform="rotate(-28.6 213.5 327)"/>
<ellipse cx="202.5" cy="333" rx="0.6" ry="1.4" fill="#fff" stroke="#111" stroke-width="1.0" transform="rotate(-28.6 202.5 333)"/>
<path d="M234.3 317.7L239.3 315.4L236.7 309.6L231.7 311.9Z" stroke="#111" stroke-width="0" fill="#222" stroke-linejoin="round"/>
<path d="M234.3 317.7L239.3 315.4" stroke="#111" stroke-width="1.0" fill="none"/>
<path d="M231.7 311.9L236.7 309.6" stroke="#111" stroke-width="1.0" fill="none"/>
<ellipse cx="238" cy="312.5" rx="1.5" ry="3.2" fill="#222" stroke="#111" stroke-width="1.0" transform="rotate(-24.7 238 312.5)"/>
<ellipse cx="233" cy="314.8" rx="1.5" ry="3.2" fill="#222" stroke="#111" stroke-width="1.0" transform="rotate(-24.7 233 314.8)"/>
<ellipse cx="226.6" cy="318.2" rx="8.7" ry="10.3" fill="#111" stroke="#111" stroke-width="1.0" transform="rotate(8 226.6 318.2)"/>
<ellipse cx="224.8" cy="320" rx="8.5" ry="10" fill="#fff" stroke="#111" stroke-width="1.1" transform="rotate(8 224.8 320)"/>
<ellipse cx="225.2" cy="320.3" rx="3" ry="3.4" fill="#fff" stroke="#111" stroke-width="0.8"/>
<ellipse cx="225.4" cy="320.4" rx="1.5" ry="1.8" fill="#fff" stroke="#111" stroke-width="1.0"/>
<path d="M147.8 356.5L149.5 353.3L153.2 352.3L153.8 348.7L158.5 347.7L159.3 344.3L162.7 343.3L164.5 341.8L196 350.6L196 378L191.2 380.6L148.7 366.8Z" stroke="#111" stroke-width="1.0" fill="#fff" stroke-linejoin="round"/>
<path d="M162.7 343.3L191.2 352.9L196 350.6" stroke="#111" stroke-width="0.9" fill="none" stroke-linejoin="round"/>
<path d="M191.2 352.9L191.2 380.6" stroke="#111" stroke-width="0.9" fill="none"/>
<path d="M160.3 344L160.3 346.5L163 345.8" stroke="#111" stroke-width="0.6" fill="none" stroke-linejoin="round"/>
<ellipse cx="154.5" cy="361.5" rx="1.4" ry="1.7" fill="#fff" stroke="#111" stroke-width="0.8"/>
<ellipse cx="165" cy="357" rx="1.4" ry="1.7" fill="#fff" stroke="#111" stroke-width="0.8"/>
<ellipse cx="183.2" cy="370.2" rx="1.4" ry="1.7" fill="#fff" stroke="#111" stroke-width="0.8"/>
<ellipse cx="154.5" cy="361.5" rx="0.5" ry="0.6" fill="#222" stroke="#111" stroke-width="0.3"/>
<ellipse cx="165" cy="357" rx="0.5" ry="0.6" fill="#222" stroke="#111" stroke-width="0.3"/>
<ellipse cx="183.2" cy="370.2" rx="0.5" ry="0.6" fill="#222" stroke="#111" stroke-width="0.3"/>
<path d="M158.5 359.5L163.5 357.5" stroke="#111" stroke-width="0.5" fill="none"/>
<ellipse cx="193.6" cy="357" rx="0.6" ry="0.6" fill="#222" stroke="#111" stroke-width="0.3"/>
<ellipse cx="193.6" cy="362" rx="0.6" ry="0.6" fill="#222" stroke="#111" stroke-width="0.3"/>
<ellipse cx="193.6" cy="367.5" rx="0.6" ry="0.6" fill="#222" stroke="#111" stroke-width="0.3"/>
<ellipse cx="193.6" cy="372.5" rx="0.6" ry="0.6" fill="#222" stroke="#111" stroke-width="0.3"/>
<path d="M183.2 370.2L145 392.8" stroke="#111" stroke-width="0.5" fill="none"/>
<path d="M148.7 369L153.3 369L153.3 384L148.7 384Z" stroke="#111" stroke-width="0.9" fill="#fff" stroke-linejoin="round"/>
<ellipse cx="151" cy="369" rx="2.3" ry="1" fill="#fff" stroke="#111" stroke-width="0.8"/>
<ellipse cx="156.5" cy="388" rx="5.2" ry="3.6" fill="#fff" stroke="#111" stroke-width="0.9" transform="rotate(-25 156.5 388)"/>
<ellipse cx="154.3" cy="389" rx="2.6" ry="2.5" fill="#fff" stroke="#111" stroke-width="0.8"/>
<ellipse cx="154" cy="389.2" rx="1.2" ry="1.2" fill="#222" stroke="#111" stroke-width="0.3"/>
<path d="M155.2 377L157.2 377L157.2 384L155.2 384Z" stroke="#111" stroke-width="0.7" fill="#fff" stroke-linejoin="round"/>
<ellipse cx="156.2" cy="377" rx="1" ry="0.5" fill="#222" stroke="#111" stroke-width="0.3"/>
<ellipse cx="131.8" cy="376.7" rx="14.4" ry="17.3" fill="#fff" stroke="#111" stroke-width="1.1" transform="rotate(-6 131.8 376.7)"/>
<ellipse cx="130.3" cy="376" rx="14.4" ry="17.3" fill="#fff" stroke="#111" stroke-width="0.5" transform="rotate(-6 130.3 376)"/>
<ellipse cx="128.8" cy="375.3" rx="14.4" ry="17.3" fill="#fff" stroke="#111" stroke-width="1.1" transform="rotate(-6 128.8 375.3)"/>
<ellipse cx="128.4" cy="375.1" rx="11.8" ry="14.2" fill="#fff" stroke="#111" stroke-width="1.1" transform="rotate(-6 128.4 375.1)"/>
<ellipse cx="127.8" cy="374.8" rx="9.2" ry="11.1" fill="#fff" stroke="#111" stroke-width="0.8" transform="rotate(-6 127.8 374.8)"/>
<path d="M132.2 374.5L133.5 384.1" stroke="#111" stroke-width="1.9" fill="none"/>
<path d="M132.2 374.5L133.5 384.1" stroke="#fff" stroke-width="0.6" fill="none"/>
<path d="M132.2 374.5L120.2 381.3" stroke="#111" stroke-width="1.9" fill="none"/>
<path d="M132.2 374.5L120.2 381.3" stroke="#fff" stroke-width="0.6" fill="none"/>
<path d="M132.2 374.5L118.7 370.9" stroke="#111" stroke-width="1.9" fill="none"/>
<path d="M132.2 374.5L118.7 370.9" stroke="#fff" stroke-width="0.6" fill="none"/>
<ellipse cx="132.2" cy="374.5" rx="2.3" ry="2.9" fill="#fff" stroke="#111" stroke-width="0.8" transform="rotate(-6 132.2 374.5)"/>
<ellipse cx="132.5" cy="374.5" rx="0.9" ry="1.2" fill="#222" stroke="#111" stroke-width="0.3" transform="rotate(-6 132.5 374.5)"/>
<ellipse cx="136.6" cy="382" rx="3.6" ry="1.5" fill="#222" stroke="#111" stroke-width="0.5" transform="rotate(-25 136.6 382)"/>
<ellipse cx="109.7" cy="363.3" rx="2.4" ry="1.2" fill="#fff" stroke="#111" stroke-width="0.9" transform="rotate(25 109.7 363.3)"/>
<ellipse cx="117.5" cy="394" rx="3.2" ry="3.2" fill="#222" stroke="#111" stroke-width="1.0"/>
<ellipse cx="118" cy="394" rx="1.4" ry="1.6" fill="#fff" stroke="#111" stroke-width="0.3"/>
<path d="M103.4 407.5L113.4 401.6L109.6 395L99.6 400.9Z" stroke="#111" stroke-width="0" fill="#fff" stroke-linejoin="round"/>
<path d="M103.4 407.5L113.4 401.6" stroke="#111" stroke-width="1.0" fill="none"/>
<path d="M99.6 400.9L109.6 395" stroke="#111" stroke-width="1.0" fill="none"/>
<ellipse cx="111.5" cy="398.3" rx="1.7" ry="3.8" fill="#fff" stroke="#111" stroke-width="1.0" transform="rotate(-30.5 111.5 398.3)"/>
<ellipse cx="101.5" cy="404.2" rx="1.7" ry="3.8" fill="#fff" stroke="#111" stroke-width="1.0" transform="rotate(-30.5 101.5 404.2)"/>
<path d="M101.7 408.1L104.2 406.7L100.8 400.7L98.3 402.1Z" stroke="#111" stroke-width="0" fill="#222" stroke-linejoin="round"/>
<path d="M101.7 408.1L104.2 406.7" stroke="#111" stroke-width="1.0" fill="none"/>
<path d="M98.3 402.1L100.8 400.7" stroke="#111" stroke-width="1.0" fill="none"/>
<ellipse cx="102.5" cy="403.7" rx="1.5" ry="3.4" fill="#222" stroke="#111" stroke-width="1.0" transform="rotate(-29.2 102.5 403.7)"/>
<ellipse cx="100" cy="405.1" rx="1.5" ry="3.4" fill="#222" stroke="#111" stroke-width="1.0" transform="rotate(-29.2 100 405.1)"/>
<ellipse cx="100.2" cy="405" rx="0.9" ry="1.9" fill="#fff" stroke="#111" stroke-width="0.3" transform="rotate(-30 100.2 405)"/>
<path d="M88.6 414L100.1 407.3L98.9 405.1L87.4 411.8Z" stroke="#111" stroke-width="0" fill="#fff" stroke-linejoin="round"/>
<path d="M88.6 414L100.1 407.3" stroke="#111" stroke-width="1.0" fill="none"/>
<path d="M87.4 411.8L98.9 405.1" stroke="#111" stroke-width="1.0" fill="none"/>
<ellipse cx="99.5" cy="406.2" rx="0.5" ry="1.2" fill="#fff" stroke="#111" stroke-width="1.0" transform="rotate(-30.2 99.5 406.2)"/>
<ellipse cx="88" cy="412.9" rx="0.5" ry="1.2" fill="#fff" stroke="#111" stroke-width="1.0" transform="rotate(-30.2 88 412.9)"/>
<path d="M86.1 417.2L89.2 415.4L86.4 410.6L83.3 412.4Z" stroke="#111" stroke-width="0" fill="#222" stroke-linejoin="round"/>
<path d="M86.1 417.2L89.2 415.4" stroke="#111" stroke-width="1.0" fill="none"/>
<path d="M83.3 412.4L86.4 410.6" stroke="#111" stroke-width="1.0" fill="none"/>
<ellipse cx="87.8" cy="413" rx="1.2" ry="2.8" fill="#222" stroke="#111" stroke-width="1.0" transform="rotate(-30.1 87.8 413)"/>
<ellipse cx="84.7" cy="414.8" rx="1.2" ry="2.8" fill="#222" stroke="#111" stroke-width="1.0" transform="rotate(-30.1 84.7 414.8)"/>
<ellipse cx="84.3" cy="414.9" rx="0.6" ry="1.2" fill="#fff" stroke="#111" stroke-width="0.3" transform="rotate(-28 84.3 414.9)"/>
<path d="M191.5 387.5L194 387L194.3 413L191.8 413.5Z" stroke="#111" stroke-width="0.8" fill="#fff" stroke-linejoin="round"/>
<path d="M191.6 389.1L194.1 388.5" stroke="#111" stroke-width="0.5" fill="none"/>
<path d="M191.6 390.6L194.1 390" stroke="#111" stroke-width="0.5" fill="none"/>
<path d="M191.6 392.1L194.1 391.5" stroke="#111" stroke-width="0.5" fill="none"/>
<path d="M191.6 393.6L194.1 393" stroke="#111" stroke-width="0.5" fill="none"/>
<path d="M191.6 395.1L194.1 394.5" stroke="#111" stroke-width="0.5" fill="none"/>
<path d="M191.6 396.6L194.1 396" stroke="#111" stroke-width="0.5" fill="none"/>
<path d="M191.6 398.1L194.1 397.5" stroke="#111" stroke-width="0.5" fill="none"/>
<path d="M191.6 399.6L194.1 399" stroke="#111" stroke-width="0.5" fill="none"/>
<path d="M191.6 401.1L194.1 400.5" stroke="#111" stroke-width="0.5" fill="none"/>
<path d="M191.6 402.6L194.1 402" stroke="#111" stroke-width="0.5" fill="none"/>
<path d="M191.6 404.1L194.1 403.5" stroke="#111" stroke-width="0.5" fill="none"/>
<path d="M191.6 405.6L194.1 405" stroke="#111" stroke-width="0.5" fill="none"/>
<path d="M191.6 407.1L194.1 406.5" stroke="#111" stroke-width="0.5" fill="none"/>
<path d="M191.6 408.6L194.1 408" stroke="#111" stroke-width="0.5" fill="none"/>
<path d="M191.6 410.1L194.1 409.5" stroke="#111" stroke-width="0.5" fill="none"/>
<path d="M191.6 411.6L194.1 411" stroke="#111" stroke-width="0.5" fill="none"/>
<path d="M191.6 413.1L194.1 412.5" stroke="#111" stroke-width="0.5" fill="none"/>
<ellipse cx="203" cy="352" rx="1.9" ry="2" fill="#222" stroke="#111" stroke-width="1.0"/>
<ellipse cx="206" cy="350.8" rx="1.5" ry="1.6" fill="#222" stroke="#111" stroke-width="1.0"/>
<path d="M217.8 351.4L224.3 347.9L222.7 345.1L216.2 348.6Z" stroke="#111" stroke-width="0" fill="#fff" stroke-linejoin="round"/>
<path d="M217.8 351.4L224.3 347.9" stroke="#111" stroke-width="1.0" fill="none"/>
<path d="M216.2 348.6L222.7 345.1" stroke="#111" stroke-width="1.0" fill="none"/>
<ellipse cx="223.5" cy="346.5" rx="0.6" ry="1.6" fill="#fff" stroke="#111" stroke-width="1.0" transform="rotate(-28.3 223.5 346.5)"/>
<ellipse cx="217" cy="350" rx="0.6" ry="1.6" fill="#fff" stroke="#111" stroke-width="1.0" transform="rotate(-28.3 217 350)"/>
<ellipse cx="226.6" cy="345.2" rx="5.6" ry="7.4" fill="#fff" stroke="#111" stroke-width="1.0" transform="rotate(10 226.6 345.2)"/>
<ellipse cx="225" cy="346" rx="5.6" ry="7.4" fill="#fff" stroke="#111" stroke-width="1.0" transform="rotate(10 225 346)"/>
<path d="M221 351.6L225 349.5L222 343.9L218 346Z" stroke="#111" stroke-width="0" fill="#fff" stroke-linejoin="round"/>
<path d="M221 351.6L225 349.5" stroke="#111" stroke-width="1.0" fill="none"/>
<path d="M218 346L222 343.9" stroke="#111" stroke-width="1.0" fill="none"/>
<ellipse cx="223.5" cy="346.7" rx="1.5" ry="3.2" fill="#fff" stroke="#111" stroke-width="1.0" transform="rotate(-27.7 223.5 346.7)"/>
<ellipse cx="219.5" cy="348.8" rx="1.5" ry="3.2" fill="#fff" stroke="#111" stroke-width="1.0" transform="rotate(-27.7 219.5 348.8)"/>
<path d="M208.5 366L216.5 361.5" stroke="#111" stroke-width="0.6" fill="none"/>
<path d="M209 361L216 366" stroke="#111" stroke-width="0.6" fill="none"/>
<ellipse cx="209.5" cy="365.5" rx="1.6" ry="1.3" fill="#222" stroke="#111" stroke-width="1.0"/>
<ellipse cx="215.5" cy="362" rx="1.6" ry="1.3" fill="#222" stroke="#111" stroke-width="1.0"/>
<path d="M199 365L204 362.5" stroke="#111" stroke-width="0.5" fill="none"/>
<path d="M196.5 372.5L217 379.5" stroke="#111" stroke-width="0.5" fill="none"/>
<path d="M198.7 374.3L202.7 375.6L203.3 373.6L199.3 372.3Z" stroke="#111" stroke-width="0" fill="#fff" stroke-linejoin="round"/>
<path d="M198.7 374.3L202.7 375.6" stroke="#111" stroke-width="1.0" fill="none"/>
<path d="M199.3 372.3L203.3 373.6" stroke="#111" stroke-width="1.0" fill="none"/>
<ellipse cx="203" cy="374.6" rx="0.5" ry="1.1" fill="#fff" stroke="#111" stroke-width="1.0" transform="rotate(18 203 374.6)"/>
<ellipse cx="199" cy="373.3" rx="0.5" ry="1.1" fill="#fff" stroke="#111" stroke-width="1.0" transform="rotate(18 199 373.3)"/>
<path d="M203.6 377.6L209.6 379.6L210.4 377L204.4 375Z" stroke="#111" stroke-width="0" fill="#222" stroke-linejoin="round"/>
<path d="M203.6 377.6L209.6 379.6" stroke="#111" stroke-width="1.0" fill="none"/>
<path d="M204.4 375L210.4 377" stroke="#111" stroke-width="1.0" fill="none"/>
<ellipse cx="210" cy="378.3" rx="0.6" ry="1.4" fill="#222" stroke="#111" stroke-width="1.0" transform="rotate(18.4 210 378.3)"/>
<ellipse cx="204" cy="376.3" rx="0.6" ry="1.4" fill="#222" stroke="#111" stroke-width="1.0" transform="rotate(18.4 204 376.3)"/>
<path d="M210 378.5L213 379.5L214 376.5L211 375.5Z" stroke="#111" stroke-width="0" fill="#fff" stroke-linejoin="round"/>
<path d="M210 378.5L213 379.5" stroke="#111" stroke-width="1.0" fill="none"/>
<path d="M211 375.5L214 376.5" stroke="#111" stroke-width="1.0" fill="none"/>
<ellipse cx="213.5" cy="378" rx="0.7" ry="1.6" fill="#fff" stroke="#111" stroke-width="1.0" transform="rotate(18.4 213.5 378)"/>
<ellipse cx="210.5" cy="377" rx="0.7" ry="1.6" fill="#fff" stroke="#111" stroke-width="1.0" transform="rotate(18.4 210.5 377)"/>
<ellipse cx="215.8" cy="379.3" rx="1.2" ry="1.2" fill="#222" stroke="#111" stroke-width="1.0"/>
<path d="M196.5 378.5L210 383" stroke="#111" stroke-width="0.5" fill="none"/>
<ellipse cx="214.5" cy="383.2" rx="1.2" ry="1" fill="#222" stroke="#111" stroke-width="1.0"/>
<ellipse cx="211" cy="382.2" rx="0.8" ry="0.8" fill="#222" stroke="#111" stroke-width="0.3"/>
<path d="M196.4 366.5L239.6 381.9" stroke="#111" stroke-width="0.5" fill="none"/>
<path d="M240 320.8L243.5 318.8L250.5 322L250.5 345L247 347L240 343.8Z" stroke="#111" stroke-width="0.9" fill="#fff" stroke-linejoin="round"/>
<path d="M240 320.8L247 324L250.5 322" stroke="#111" stroke-width="0.8" fill="none" stroke-linejoin="round"/>
<path d="M247 324L247 347" stroke="#111" stroke-width="0.8" fill="none"/>
<ellipse cx="254" cy="331.5" rx="3.8" ry="4.8" fill="#fff" stroke="#111" stroke-width="0.9"/>
<path d="M249 326.6L254 326.6L254 336.4L249 336.4Z" stroke="#111" stroke-width="0" fill="#fff" stroke-linejoin="round"/>
<path d="M250.5 326.8L254 326.7" stroke="#111" stroke-width="0.8" fill="none"/>
<path d="M250.5 336.3L254 336.3" stroke="#111" stroke-width="0.8" fill="none"/>
<ellipse cx="254.6" cy="331.5" rx="1.8" ry="2.3" fill="#fff" stroke="#111" stroke-width="0.7"/>
<ellipse cx="254.8" cy="331.5" rx="0.8" ry="1" fill="#222" stroke="#111" stroke-width="0.3"/>
<ellipse cx="243.5" cy="327" rx="0.7" ry="0.7" fill="#222" stroke="#111" stroke-width="0.3"/>
<ellipse cx="243.5" cy="339" rx="0.7" ry="0.7" fill="#222" stroke="#111" stroke-width="0.3"/>
<path d="M235 340.5L241 337.3" stroke="#222" stroke-width="1.6" fill="none"/>
<path d="M236.5 336L242 333.3" stroke="#222" stroke-width="1.4" fill="none"/>
<ellipse cx="234.8" cy="340.7" rx="1.1" ry="1.3" fill="#222" stroke="#111" stroke-width="0.3"/>
<ellipse cx="236.3" cy="336.2" rx="1" ry="1.2" fill="#222" stroke="#111" stroke-width="0.3"/>
<path d="M244.2 345L244.2 357" stroke="#111" stroke-width="0.5" fill="none"/>
<path d="M242.8 347L245.6 346.2" stroke="#111" stroke-width="0.6" fill="none"/>
<path d="M242.8 348.5L245.6 347.7" stroke="#111" stroke-width="0.6" fill="none"/>
<path d="M242.8 350L245.6 349.2" stroke="#111" stroke-width="0.6" fill="none"/>
<path d="M242.8 351.5L245.6 350.7" stroke="#111" stroke-width="0.6" fill="none"/>
<path d="M243.2 352.5L245.2 352.5L245.2 356L243.2 356Z" stroke="#111" stroke-width="0.4" fill="#222" stroke-linejoin="round"/>
<path d="M248.5 360L248.5 376" stroke="#111" stroke-width="0.5" fill="none"/>
<ellipse cx="248.5" cy="368.6" rx="5" ry="2.3" fill="#fff" stroke="#111" stroke-width="0.9"/>
<ellipse cx="248.5" cy="367.4" rx="5" ry="2.3" fill="#fff" stroke="#111" stroke-width="0.9"/>
<ellipse cx="248.5" cy="367.4" rx="2" ry="0.9" fill="#222" stroke="#111" stroke-width="0.4"/>
<path d="M240 378.3L246.3 374.4L253.8 377.6L253.8 386.8L247.5 390.7L240 387.5Z" stroke="#111" stroke-width="1.0" fill="#fff" stroke-linejoin="round"/>
<path d="M240 378.3L247.5 381.5L253.8 377.6" stroke="#111" stroke-width="1.0" fill="none" stroke-linejoin="round"/>
<path d="M247.5 381.5L247.5 390.7" stroke="#111" stroke-width="1.0" fill="none"/>
<ellipse cx="246.8" cy="377.3" rx="1.8" ry="0.8" fill="#222" stroke="#111" stroke-width="0.4"/>
<ellipse cx="250.8" cy="384.5" rx="1.1" ry="1.3" fill="#222" stroke="#111" stroke-width="0.4"/>
<path d="M259.1 389.3L263.1 390.9L263.9 388.7L259.9 387.1Z" stroke="#111" stroke-width="0" fill="#fff" stroke-linejoin="round"/>
<path d="M259.1 389.3L263.1 390.9" stroke="#111" stroke-width="1.0" fill="none"/>
<path d="M259.9 387.1L263.9 388.7" stroke="#111" stroke-width="1.0" fill="none"/>
<ellipse cx="263.5" cy="389.8" rx="0.5" ry="1.2" fill="#fff" stroke="#111" stroke-width="1.0" transform="rotate(21.8 263.5 389.8)"/>
<ellipse cx="259.5" cy="388.2" rx="0.5" ry="1.2" fill="#fff" stroke="#111" stroke-width="1.0" transform="rotate(21.8 259.5 388.2)"/>
<path d="M262.6 391.9L266.1 393.3L267.9 388.7L264.4 387.3Z" stroke="#111" stroke-width="0" fill="#fff" stroke-linejoin="round"/>
<path d="M262.6 391.9L266.1 393.3" stroke="#111" stroke-width="1.0" fill="none"/>
<path d="M264.4 387.3L267.9 388.7" stroke="#111" stroke-width="1.0" fill="none"/>
<ellipse cx="267" cy="391" rx="1" ry="2.5" fill="#222" stroke="#111" stroke-width="1.0" transform="rotate(21.8 267 391)"/>
<ellipse cx="263.5" cy="389.6" rx="1" ry="2.5" fill="#fff" stroke="#111" stroke-width="1.0" transform="rotate(21.8 263.5 389.6)"/>
<path d="M246 394L250.5 394L250.5 407.5L246 407.5Z" stroke="#111" stroke-width="0.9" fill="#fff" stroke-linejoin="round"/>
<ellipse cx="248.2" cy="407.5" rx="2.2" ry="1" fill="#fff" stroke="#111" stroke-width="0.8"/>
<ellipse cx="248.2" cy="394" rx="2.2" ry="1" fill="#fff" stroke="#111" stroke-width="0.8"/>
<path d="M246 400.5L250.5 400.5" stroke="#111" stroke-width="0.6" fill="none"/>
<path d="M246 402L250.5 402" stroke="#111" stroke-width="0.6" fill="none"/>
<path d="M246 403.5L250.5 403.5" stroke="#111" stroke-width="0.6" fill="none"/>
<path d="M246 405L250.5 405" stroke="#111" stroke-width="0.6" fill="none"/>
<path d="M246 406.5L250.5 406.5" stroke="#111" stroke-width="0.6" fill="none"/>
<path d="M248.2 390.5L248.2 394" stroke="#111" stroke-width="0.5" fill="none"/>
<path d="M388.7 286L388.7 294" stroke="#111" stroke-width="0.5" fill="none"/>
<path d="M391 294L406.5 294L406.5 298.6L391 298.6Z" stroke="#111" stroke-width="0.9" fill="#fff" stroke-linejoin="round"/>
<ellipse cx="406.6" cy="296.3" rx="1.7" ry="2.3" fill="#222" stroke="#111" stroke-width="1.0"/>
<path d="M401.5 294L401.5 298.6" stroke="#111" stroke-width="0.5" fill="none"/>
<path d="M384.6 294.3L393 294.3L393 303.8L384.6 303.8Z" stroke="#111" stroke-width="0" fill="#fff" stroke-linejoin="round"/>
<path d="M384.6 294.3L384.6 303.8" stroke="#111" stroke-width="1.0" fill="none"/>
<path d="M393 294.3L393 303.8" stroke="#111" stroke-width="1.0" fill="none"/>
<ellipse cx="388.8" cy="303.8" rx="4.2" ry="1.6" fill="#fff" stroke="#111" stroke-width="1.0"/>
<path d="M385 294.5L392.6 294.5L392.6 303.5L385 303.5Z" stroke="#111" stroke-width="0" fill="#fff" stroke-linejoin="round"/>
<ellipse cx="388.8" cy="294.3" rx="4.2" ry="1.6" fill="#fff" stroke="#111" stroke-width="1.0"/>
<path d="M388.7 304L388.7 310" stroke="#111" stroke-width="0.5" fill="none"/>
<path d="M384.6 311L393 311L393 316.8L384.6 316.8Z" stroke="#111" stroke-width="0" fill="#fff" stroke-linejoin="round"/>
<path d="M384.6 311L384.6 316.8" stroke="#111" stroke-width="1.0" fill="none"/>
<path d="M393 311L393 316.8" stroke="#111" stroke-width="1.0" fill="none"/>
<ellipse cx="388.8" cy="316.8" rx="4.2" ry="1.6" fill="#fff" stroke="#111" stroke-width="1.0"/>
<path d="M385 311.2L392.6 311.2L392.6 316.5L385 316.5Z" stroke="#111" stroke-width="0" fill="#fff" stroke-linejoin="round"/>
<ellipse cx="388.8" cy="311" rx="4.2" ry="1.6" fill="#fff" stroke="#111" stroke-width="1.0"/>
<ellipse cx="388.8" cy="311" rx="2.3" ry="0.9" fill="#222" stroke="#111" stroke-width="0.4"/>
<path d="M386.4 320L391.2 320L391.2 335L386.4 335Z" stroke="#111" stroke-width="0" fill="#fff" stroke-linejoin="round"/>
<path d="M386.4 320L386.4 335" stroke="#111" stroke-width="1.0" fill="none"/>
<path d="M391.2 320L391.2 335" stroke="#111" stroke-width="1.0" fill="none"/>
<ellipse cx="388.8" cy="335" rx="2.4" ry="1" fill="#fff" stroke="#111" stroke-width="1.0"/>
<path d="M386.8 320.2L390.8 320.2L390.8 334.8L386.8 334.8Z" stroke="#111" stroke-width="0" fill="#fff" stroke-linejoin="round"/>
<ellipse cx="388.8" cy="320" rx="2.4" ry="1" fill="#fff" stroke="#111" stroke-width="1.0"/>
<path d="M325.7 335.7L363.2 346.8L365.8 337.8L328.3 326.7Z" stroke="#111" stroke-width="0" fill="#fff" stroke-linejoin="round"/>
<path d="M325.7 335.7L363.2 346.8" stroke="#111" stroke-width="1.0" fill="none"/>
<path d="M328.3 326.7L365.8 337.8" stroke="#111" stroke-width="1.0" fill="none"/>
<ellipse cx="364.5" cy="342.3" rx="2.3" ry="4.7" fill="#fff" stroke="#111" stroke-width="1.0" transform="rotate(16.5 364.5 342.3)"/>
<ellipse cx="327" cy="331.2" rx="2.3" ry="4.7" fill="#fff" stroke="#111" stroke-width="1.0" transform="rotate(16.5 327 331.2)"/>
<ellipse cx="364.7" cy="342.4" rx="2.3" ry="4.7" fill="#222" stroke="#111" stroke-width="1.0" transform="rotate(16.5 364.7 342.4)"/>
<ellipse cx="365.1" cy="342.5" rx="1" ry="2.4" fill="#fff" stroke="#111" stroke-width="0.4" transform="rotate(16.5 365.1 342.5)"/>
<path d="M319.6 329L326 327.2L327.8 335.3Z" stroke="#111" stroke-width="0.9" fill="#fff" stroke-linejoin="round"/>
<path d="M319.6 329L323.5 328L324.3 332Z" stroke="#111" stroke-width="0.4" fill="#222" stroke-linejoin="round"/>
<path d="M369.5 343.7L379.5 336.9L420 351.2L420 361.2L410 368L369.5 353.7Z" stroke="#111" stroke-width="1.0" fill="#fff" stroke-linejoin="round"/>
<path d="M369.5 343.7L410 358L420 351.2" stroke="#111" stroke-width="1.0" fill="none" stroke-linejoin="round"/>
<path d="M410 358L410 368" stroke="#111" stroke-width="1.0" fill="none"/>
<ellipse cx="388.7" cy="340.7" rx="3.6" ry="1.5" fill="#fff" stroke="#111" stroke-width="0.8"/>
<ellipse cx="388.7" cy="341" rx="2.2" ry="0.9" fill="#222" stroke="#111" stroke-width="0.3"/>
<ellipse cx="415" cy="359.7" rx="2.9" ry="3.7" fill="#fff" stroke="#111" stroke-width="0.9"/>
<ellipse cx="415.4" cy="359.8" rx="1.7" ry="2.4" fill="#222" stroke="#111" stroke-width="0.3"/>
<path d="M395 364.5L410 368.6L410 385.5L402 388L395 385.5Z" stroke="#111" stroke-width="0.9" fill="#fff" stroke-linejoin="round"/>
<path d="M378 358.5L395 364.5L395 378L378 372.5Z" stroke="#111" stroke-width="0.9" fill="#fff" stroke-linejoin="round"/>
<path d="M381.5 359.8L381.5 371.3" stroke="#111" stroke-width="0.8" fill="none"/>
<path d="M385 361L385 372.5" stroke="#111" stroke-width="0.8" fill="none"/>
<path d="M389.5 362.6L389.5 374.1" stroke="#111" stroke-width="0.8" fill="none"/>
<path d="M375.5 374.5L378.5 372.5L395 378L395 385.5L391.5 387.2L375.5 381.5Z" stroke="#111" stroke-width="0.9" fill="#fff" stroke-linejoin="round"/>
<path d="M375.5 374.5L391.5 380L395 378" stroke="#111" stroke-width="0.8" fill="none" stroke-linejoin="round"/>
<path d="M391.5 380L391.5 387.2" stroke="#111" stroke-width="0.8" fill="none"/>
<path d="M379 379L379 381.2L384 383L384 380.8" stroke="#111" stroke-width="0.6" fill="none" stroke-linejoin="round"/>
<path d="M402 388L402 371" stroke="#111" stroke-width="0.7" fill="none"/>
<path d="M402 371L410 368.6" stroke="#111" stroke-width="0.6" fill="none"/>
<ellipse cx="392.5" cy="373.5" rx="1.2" ry="1.4" fill="#222" stroke="#111" stroke-width="0.3"/>
<ellipse cx="404.5" cy="383.5" rx="0.6" ry="0.6" fill="#222" stroke="#111" stroke-width="0.3"/>
<path d="M377.2 358.7L380.2 358.7L380.2 364.5L377.2 364.5Z" stroke="#111" stroke-width="0.8" fill="#fff" stroke-linejoin="round"/>
<path d="M377.2 360.5L380.2 360.5" stroke="#111" stroke-width="0.6" fill="none"/>
<path d="M377.2 362.5L380.2 362.5" stroke="#111" stroke-width="0.6" fill="none"/>
<ellipse cx="378.6" cy="368.5" rx="2.4" ry="2.3" fill="#222" stroke="#111" stroke-width="1.0"/>
<ellipse cx="378.8" cy="368.3" rx="1" ry="0.9" fill="#fff" stroke="#111" stroke-width="0.3"/>
<path d="M411.5 384.5L420 387.2L421.5 389.3L413 386.6Z" stroke="#111" stroke-width="0.9" fill="#fff" stroke-linejoin="round"/>
<path d="M420 361L429 363.4" stroke="#111" stroke-width="0.5" fill="none"/>
<path d="M429.9 365.7L455.4 373.8L456.6 369.8L431.1 361.7Z" stroke="#111" stroke-width="0" fill="#fff" stroke-linejoin="round"/>
<path d="M429.9 365.7L455.4 373.8" stroke="#111" stroke-width="1.0" fill="none"/>
<path d="M431.1 361.7L456.6 369.8" stroke="#111" stroke-width="1.0" fill="none"/>
<ellipse cx="456" cy="371.8" rx="0.9" ry="2.1" fill="#fff" stroke="#111" stroke-width="1.0" transform="rotate(17.6 456 371.8)"/>
<ellipse cx="430.5" cy="363.7" rx="0.9" ry="2.1" fill="#fff" stroke="#111" stroke-width="1.0" transform="rotate(17.6 430.5 363.7)"/>
<ellipse cx="456.5" cy="372" rx="1.7" ry="2.9" fill="#222" stroke="#111" stroke-width="1.0" transform="rotate(17 456.5 372)"/>
<ellipse cx="457" cy="372.2" rx="0.6" ry="1.3" fill="#fff" stroke="#111" stroke-width="0.3" transform="rotate(17 457 372.2)"/>
<path d="M459 372.8L470 376.2" stroke="#111" stroke-width="0.5" fill="none"/>
<path d="M472.5 382.1L476 383.2L479 373.6L475.5 372.5Z" stroke="#111" stroke-width="0" fill="#fff" stroke-linejoin="round"/>
<path d="M472.5 382.1L476 383.2" stroke="#111" stroke-width="1.0" fill="none"/>
<path d="M475.5 372.5L479 373.6" stroke="#111" stroke-width="1.0" fill="none"/>
<ellipse cx="477.5" cy="378.4" rx="2.2" ry="5" fill="#fff" stroke="#111" stroke-width="1.0" transform="rotate(17.4 477.5 378.4)"/>
<ellipse cx="474" cy="377.3" rx="2.2" ry="5" fill="#fff" stroke="#111" stroke-width="1.0" transform="rotate(17.4 474 377.3)"/>
<ellipse cx="473.7" cy="377.2" rx="1.2" ry="2.6" fill="#222" stroke="#111" stroke-width="0.4" transform="rotate(17 473.7 377.2)"/>
<ellipse cx="477.8" cy="378.5" rx="1.2" ry="2.6" fill="#222" stroke="#111" stroke-width="0.4" transform="rotate(17 477.8 378.5)"/>
<path d="M481.3 385.5L485.3 386.8L488.7 376.2L484.7 374.9Z" stroke="#111" stroke-width="0" fill="#222" stroke-linejoin="round"/>
<path d="M481.3 385.5L485.3 386.8" stroke="#111" stroke-width="1.0" fill="none"/>
<path d="M484.7 374.9L488.7 376.2" stroke="#111" stroke-width="1.0" fill="none"/>
<ellipse cx="487" cy="381.5" rx="2.6" ry="5.6" fill="#222" stroke="#111" stroke-width="1.0" transform="rotate(18 487 381.5)"/>
<ellipse cx="483" cy="380.2" rx="2.6" ry="5.6" fill="#fff" stroke="#111" stroke-width="1.0" transform="rotate(18 483 380.2)"/>
<ellipse cx="482.7" cy="380.1" rx="1.2" ry="2.6" fill="#222" stroke="#111" stroke-width="0.4" transform="rotate(17 482.7 380.1)"/>
<path d="M478 378.5L481 379.5" stroke="#111" stroke-width="0.5" fill="none"/>
<path d="M490.5 384L497 386" stroke="#222" stroke-width="2" fill="none"/>
<path d="M496 386.5L502.5 388.5" stroke="#222" stroke-width="1.6" fill="none"/>
<ellipse cx="490.3" cy="384" rx="1" ry="1.3" fill="#222" stroke="#111" stroke-width="0.3"/>
<path d="M510.2 369L513 369L513 372.5L510.2 372.5Z" stroke="#111" stroke-width="0.9" fill="#fff" stroke-linejoin="round"/>
<path d="M511.6 372.5L511.6 377" stroke="#111" stroke-width="0.5" fill="none"/>
<path d="M505.3 386L510.5 385L510.5 393L505.3 394Z" stroke="#111" stroke-width="0.9" fill="#fff" stroke-linejoin="round"/>
<ellipse cx="520.2" cy="394.4" rx="12.7" ry="18.8" fill="#fff" stroke="#111" stroke-width="1.1" transform="rotate(8 520.2 394.4)"/>
<ellipse cx="521.7" cy="393.9" rx="12.7" ry="18.8" fill="#fff" stroke="#111" stroke-width="0.5" transform="rotate(8 521.7 393.9)"/>
<ellipse cx="523.2" cy="393.5" rx="12.7" ry="18.8" fill="#fff" stroke="#111" stroke-width="1.1" transform="rotate(8 523.2 393.5)"/>
<ellipse cx="523.7" cy="393.4" rx="10.4" ry="15.4" fill="#fff" stroke="#111" stroke-width="1.1" transform="rotate(8 523.7 393.4)"/>
<ellipse cx="524.2" cy="393.2" rx="8.1" ry="12" fill="#fff" stroke="#111" stroke-width="0.8" transform="rotate(8 524.2 393.2)"/>
<path d="M521 392.7L532.6 390.1" stroke="#111" stroke-width="1.9" fill="none"/>
<path d="M521 392.7L532.6 390.1" stroke="#fff" stroke-width="0.6" fill="none"/>
<path d="M521 392.7L528.9 402.7" stroke="#111" stroke-width="1.9" fill="none"/>
<path d="M521 392.7L528.9 402.7" stroke="#fff" stroke-width="0.6" fill="none"/>
<path d="M521 392.7L518.6 403.2" stroke="#111" stroke-width="1.9" fill="none"/>
<path d="M521 392.7L518.6 403.2" stroke="#fff" stroke-width="0.6" fill="none"/>
<ellipse cx="521" cy="392.7" rx="2.3" ry="2.9" fill="#fff" stroke="#111" stroke-width="0.8" transform="rotate(8 521 392.7)"/>
<ellipse cx="521.3" cy="392.7" rx="0.9" ry="1.2" fill="#222" stroke="#111" stroke-width="0.3" transform="rotate(8 521.3 392.7)"/>
<ellipse cx="538.2" cy="397.8" rx="3.3" ry="3.6" fill="#222" stroke="#111" stroke-width="1.0"/>
<ellipse cx="538.7" cy="397.8" rx="1.3" ry="1.7" fill="#fff" stroke="#111" stroke-width="0.3"/>
<path d="M541.5 399L552 402.3" stroke="#111" stroke-width="0.5" fill="none"/>
<ellipse cx="538" cy="411" rx="3.2" ry="3.6" fill="#222" stroke="#111" stroke-width="1.0"/>
<ellipse cx="538.5" cy="411" rx="1.3" ry="1.7" fill="#fff" stroke="#111" stroke-width="0.3"/>
<path d="M545.2 416.5L555.2 420L557.8 412.6L547.8 409.1Z" stroke="#111" stroke-width="0" fill="#fff" stroke-linejoin="round"/>
<path d="M545.2 416.5L555.2 420" stroke="#111" stroke-width="1.0" fill="none"/>
<path d="M547.8 409.1L557.8 412.6" stroke="#111" stroke-width="1.0" fill="none"/>
<ellipse cx="556.5" cy="416.3" rx="1.7" ry="3.9" fill="#fff" stroke="#111" stroke-width="1.0" transform="rotate(19.3 556.5 416.3)"/>
<ellipse cx="546.5" cy="412.8" rx="1.7" ry="3.9" fill="#fff" stroke="#111" stroke-width="1.0" transform="rotate(19.3 546.5 412.8)"/>
<path d="M555.3 419.5L558.3 420.6L560.7 414.2L557.7 413.1Z" stroke="#111" stroke-width="0" fill="#222" stroke-linejoin="round"/>
<path d="M555.3 419.5L558.3 420.6" stroke="#111" stroke-width="1.0" fill="none"/>
<path d="M557.7 413.1L560.7 414.2" stroke="#111" stroke-width="1.0" fill="none"/>
<ellipse cx="559.5" cy="417.4" rx="1.5" ry="3.4" fill="#222" stroke="#111" stroke-width="1.0" transform="rotate(20.1 559.5 417.4)"/>
<ellipse cx="556.5" cy="416.3" rx="1.5" ry="3.4" fill="#222" stroke="#111" stroke-width="1.0" transform="rotate(20.1 556.5 416.3)"/>
<path d="M560.6 419.3L578.6 425.3L579.4 423.1L561.4 417.1Z" stroke="#111" stroke-width="0" fill="#fff" stroke-linejoin="round"/>
<path d="M560.6 419.3L578.6 425.3" stroke="#111" stroke-width="1.0" fill="none"/>
<path d="M561.4 417.1L579.4 423.1" stroke="#111" stroke-width="1.0" fill="none"/>
<ellipse cx="579" cy="424.2" rx="0.5" ry="1.2" fill="#fff" stroke="#111" stroke-width="1.0" transform="rotate(18.4 579 424.2)"/>
<ellipse cx="561" cy="418.2" rx="0.5" ry="1.2" fill="#fff" stroke="#111" stroke-width="1.0" transform="rotate(18.4 561 418.2)"/>
<path d="M578.6 426.9L582.1 428.1L583.9 422.9L580.4 421.7Z" stroke="#111" stroke-width="0" fill="#222" stroke-linejoin="round"/>
<path d="M578.6 426.9L582.1 428.1" stroke="#111" stroke-width="1.0" fill="none"/>
<path d="M580.4 421.7L583.9 422.9" stroke="#111" stroke-width="1.0" fill="none"/>
<ellipse cx="583" cy="425.5" rx="1.2" ry="2.8" fill="#222" stroke="#111" stroke-width="1.0" transform="rotate(18.9 583 425.5)"/>
<ellipse cx="579.5" cy="424.3" rx="1.2" ry="2.8" fill="#222" stroke="#111" stroke-width="1.0" transform="rotate(18.9 579.5 424.3)"/>
<ellipse cx="583.3" cy="425.6" rx="0.6" ry="1.3" fill="#fff" stroke="#111" stroke-width="0.3" transform="rotate(17 583.3 425.6)"/>
<path d="M583 425.5L589.5 427.6" stroke="#111" stroke-width="0.5" fill="none"/>
<path d="M388 385L388 413" stroke="#111" stroke-width="0.5" fill="none"/>
<path d="M393 388L393 413" stroke="#111" stroke-width="0.5" fill="none"/>
<path d="M389.3 393.3L397.3 393.3L397.3 397L389.3 397Z" stroke="#111" stroke-width="0" fill="#fff" stroke-linejoin="round"/>
<ellipse cx="393.3" cy="397" rx="4" ry="1.7" fill="#fff" stroke="#111" stroke-width="0.9"/>
<path d="M389.3 393.3L389.3 397" stroke="#111" stroke-width="0.9" fill="none"/>
<path d="M397.3 393.3L397.3 397" stroke="#111" stroke-width="0.9" fill="none"/>
<ellipse cx="393.3" cy="393.3" rx="4" ry="1.7" fill="#fff" stroke="#111" stroke-width="0.9"/>
<ellipse cx="393.3" cy="393.3" rx="2.1" ry="0.9" fill="#222" stroke="#111" stroke-width="0.4"/>
<ellipse cx="393.5" cy="403" rx="4.3" ry="2" fill="#222" stroke="#111" stroke-width="1.0"/>
<ellipse cx="393.5" cy="401.7" rx="4.3" ry="2" fill="#fff" stroke="#111" stroke-width="0.9"/>
<ellipse cx="393.5" cy="401.7" rx="2.2" ry="1" fill="#222" stroke="#111" stroke-width="0.4"/>
<path d="M373 423.5L384.6 413.7L411.4 420L411.4 423.8L396.3 433.8L373 427.3Z" stroke="#111" stroke-width="1.0" fill="#fff" stroke-linejoin="round"/>
<path d="M373 423.5L396.3 430L411.4 420" stroke="#111" stroke-width="0.9" fill="none" stroke-linejoin="round"/>
<path d="M396.3 430L396.3 433.8" stroke="#111" stroke-width="0.9" fill="none"/>
<path d="M386 419.5L392 414.3L401.5 416.6L396 422.5Z" stroke="#111" stroke-width="0.8" fill="#fff" stroke-linejoin="round"/>
<path d="M380.5 425.6L386 419.5" stroke="#111" stroke-width="0.8" fill="none" stroke-linejoin="round"/>
<path d="M396 422.5L391.5 428.7" stroke="#111" stroke-width="0.8" fill="none" stroke-linejoin="round"/>
<path d="M396 422.5L404.5 424.8" stroke="#111" stroke-width="0.7" fill="none" stroke-linejoin="round"/>
<path d="M401.5 416.6L408.5 418.6" stroke="#111" stroke-width="0.6" fill="none" stroke-linejoin="round"/>
<ellipse cx="393.6" cy="418.4" rx="3.2" ry="1.5" fill="#fff" stroke="#111" stroke-width="0.8"/>
<ellipse cx="393.6" cy="418.5" rx="1.6" ry="0.8" fill="#222" stroke="#111" stroke-width="0.3"/>
<path d="M384 430.4L384 428.3L388 429.4L388 431.5" stroke="#111" stroke-width="0.6" fill="none" stroke-linejoin="round"/>
<path d="M388 434L388 437" stroke="#111" stroke-width="0.5" fill="none"/>
<path d="M393.8 434L393.8 443" stroke="#111" stroke-width="0.5" fill="none"/>
<path d="M386 437L390 437L390 441.5L386 441.5Z" stroke="#111" stroke-width="0.8" fill="#fff" stroke-linejoin="round"/>
<path d="M386.8 441.5L389.2 441.5L389.2 445L386.8 445Z" stroke="#111" stroke-width="0.7" fill="#fff" stroke-linejoin="round"/>
<ellipse cx="388" cy="437" rx="2" ry="0.8" fill="#222" stroke="#111" stroke-width="0.4"/>
<path d="M384 463.5L392.5 460.7L406.3 463.8L406.3 465.6L397.5 469L384 465.5Z" stroke="#111" stroke-width="0.9" fill="#fff" stroke-linejoin="round"/>
<path d="M384 463.5L397.5 467L406.3 463.8" stroke="#111" stroke-width="0.8" fill="none" stroke-linejoin="round"/>
<path d="M397.5 467L397.5 469" stroke="#111" stroke-width="0.7" fill="none"/>
<path d="M391 443.5L396.4 443.5L396.4 463.3L391 463.3Z" stroke="#111" stroke-width="0" fill="#fff" stroke-linejoin="round"/>
<path d="M391 443.5L391 463.3" stroke="#111" stroke-width="1.0" fill="none"/>
<path d="M396.4 443.5L396.4 463.3" stroke="#111" stroke-width="1.0" fill="none"/>
<ellipse cx="393.7" cy="463.3" rx="2.7" ry="1.2" fill="#fff" stroke="#111" stroke-width="0.8"/>
<path d="M391.4 443.7L396 443.7L396 463L391.4 463Z" stroke="#111" stroke-width="0" fill="#fff" stroke-linejoin="round"/>
<ellipse cx="393.7" cy="443.5" rx="2.7" ry="1.2" fill="#fff" stroke="#111" stroke-width="0.9"/>
<path d="M143 9L168 57" stroke="#111" stroke-width="0.85" fill="none"/>
<path d="M171.7 21.5L177 37" stroke="#111" stroke-width="0.85" fill="none"/>
<path d="M137.5 31L167 64" stroke="#111" stroke-width="0.85" fill="none"/>
<path d="M139 68L177.5 86" stroke="#111" stroke-width="0.85" fill="none"/>
<path d="M138.3 81L183.5 96" stroke="#111" stroke-width="0.85" fill="none"/>
<path d="M138.5 89L177.5 100.5" stroke="#111" stroke-width="0.85" fill="none"/>
<path d="M138.5 101L166 109" stroke="#111" stroke-width="0.85" fill="none"/>
<path d="M138.5 110L168 118.5" stroke="#111" stroke-width="0.85" fill="none"/>
<path d="M138.5 118.5L161 122" stroke="#111" stroke-width="0.85" fill="none"/>
<path d="M138.5 126.5L180 132.5" stroke="#111" stroke-width="0.85" fill="none"/>
<path d="M138.5 134.5L168 143" stroke="#111" stroke-width="0.85" fill="none"/>
<path d="M138.5 143.5L158 150" stroke="#111" stroke-width="0.85" fill="none"/>
<path d="M138.5 152.5L147.5 156" stroke="#111" stroke-width="0.85" fill="none"/>
<path d="M138.5 161.5L181 183" stroke="#111" stroke-width="0.85" fill="none"/>
<path d="M138.5 173L170 189" stroke="#111" stroke-width="0.85" fill="none"/>
<path d="M138.5 187L190 203" stroke="#111" stroke-width="0.85" fill="none"/>
<path d="M250.8 133L243 136.5" stroke="#111" stroke-width="0.85" fill="none"/>
<path d="M228 166.5L224 154.5" stroke="#111" stroke-width="0.85" fill="none"/>
<path d="M244 171.5L236 156.5" stroke="#111" stroke-width="0.85" fill="none"/>
<path d="M268 181L273 176" stroke="#111" stroke-width="0.85" fill="none"/>
<path d="M279 185.3L285.6 176.6" stroke="#111" stroke-width="0.85" fill="none"/>
<path d="M278 196L294.7 184.2" stroke="#111" stroke-width="0.85" fill="none"/>
<path d="M287.8 201.5L301.4 182" stroke="#111" stroke-width="0.85" fill="none"/>
<path d="M296.4 205.8L308.3 184.2" stroke="#111" stroke-width="0.85" fill="none"/>
<path d="M251 195L229 185" stroke="#111" stroke-width="0.85" fill="none"/>
<path d="M251 205.5L223.5 183.2" stroke="#111" stroke-width="0.85" fill="none"/>
<path d="M250 215L199.5 159.5" stroke="#111" stroke-width="0.85" fill="none"/>
<path d="M250 225.5L197.3 165" stroke="#111" stroke-width="0.85" fill="none"/>
<path d="M251 235L224.5 208" stroke="#111" stroke-width="0.85" fill="none"/>
<path d="M251 249L226.4 226.3" stroke="#111" stroke-width="0.85" fill="none"/>
<path d="M251 260.5L219.9 236" stroke="#111" stroke-width="0.85" fill="none"/>
<path d="M104 227L148.7 242" stroke="#111" stroke-width="0.85" fill="none"/>
<path d="M95 233L138.7 252.5" stroke="#111" stroke-width="0.85" fill="none"/>
<path d="M87.5 238L102.5 245.5" stroke="#111" stroke-width="0.85" fill="none"/>
<path d="M77 243.7L121 266" stroke="#111" stroke-width="0.85" fill="none"/>
<path d="M67 247.5L102 268" stroke="#111" stroke-width="0.85" fill="none"/>
<path d="M58.7 254.5L86.5 281" stroke="#111" stroke-width="0.85" fill="none"/>
<path d="M46.5 260L80.7 288.6" stroke="#111" stroke-width="0.85" fill="none"/>
<path d="M36 267.5L65 289.5" stroke="#111" stroke-width="0.85" fill="none"/>
<path d="M25 273L64 299" stroke="#111" stroke-width="0.85" fill="none"/>
<path d="M17.6 279.4L56.8 304" stroke="#111" stroke-width="0.85" fill="none"/>
<path d="M133 281L166 264.5" stroke="#111" stroke-width="0.85" fill="none"/>
<path d="M141.3 286L169 274.5" stroke="#111" stroke-width="0.85" fill="none"/>
<path d="M152.8 289.5L177 276.5" stroke="#111" stroke-width="0.85" fill="none"/>
<path d="M161.3 292.5L177.5 281" stroke="#111" stroke-width="0.85" fill="none"/>
<path d="M180.5 308.5L218 313.3" stroke="#111" stroke-width="0.85" fill="none"/>
<path d="M170 314L203 328" stroke="#111" stroke-width="0.85" fill="none"/>
<path d="M160 320L187 338" stroke="#111" stroke-width="0.85" fill="none"/>
<path d="M280 309L251 323.3" stroke="#111" stroke-width="0.85" fill="none"/>
<path d="M280 317L255.8 328.7" stroke="#111" stroke-width="0.85" fill="none"/>
<path d="M280 328.7L245.5 346.3" stroke="#111" stroke-width="0.85" fill="none"/>
<path d="M280 338.2L245.5 353" stroke="#111" stroke-width="0.85" fill="none"/>
<path d="M283.3 350.3L251 367.3" stroke="#111" stroke-width="0.85" fill="none"/>
<path d="M283.3 362L252.3 378" stroke="#111" stroke-width="0.85" fill="none"/>
<path d="M283.3 374.6L267 388" stroke="#111" stroke-width="0.85" fill="none"/>
<path d="M283.3 391.6L251 400.2" stroke="#111" stroke-width="0.85" fill="none"/>
<path d="M203 345.5L203 350" stroke="#111" stroke-width="0.85" fill="none"/>
<path d="M211.8 339.8L206.4 350.3" stroke="#111" stroke-width="0.85" fill="none"/>
<path d="M225.5 359.5L224.5 353.5" stroke="#111" stroke-width="0.85" fill="none"/>
<path d="M200.2 398.5L199 377.3" stroke="#111" stroke-width="0.85" fill="none"/>
<path d="M207.8 400L202.5 377.5" stroke="#111" stroke-width="0.85" fill="none"/>
<path d="M216 401.5L206.5 378.5" stroke="#111" stroke-width="0.85" fill="none"/>
<path d="M227.2 404L213.2 380" stroke="#111" stroke-width="0.85" fill="none"/>
<path d="M200.2 419L194.3 412.3" stroke="#111" stroke-width="0.85" fill="none"/>
<path d="M143.5 332.8L158 346.8" stroke="#111" stroke-width="0.85" fill="none"/>
<path d="M123.5 344.5L134.2 358.5" stroke="#111" stroke-width="0.85" fill="none"/>
<path d="M104 357.3L108.5 362" stroke="#111" stroke-width="0.85" fill="none"/>
<path d="M92.7 363.9L116 392.3" stroke="#111" stroke-width="0.85" fill="none"/>
<path d="M81.5 369.5L104.3 397" stroke="#111" stroke-width="0.85" fill="none"/>
<path d="M71.7 376L90.3 408.7" stroke="#111" stroke-width="0.85" fill="none"/>
<path d="M159 418L153.3 390" stroke="#111" stroke-width="0.85" fill="none"/>
<path d="M169.2 412L156.8 377" stroke="#111" stroke-width="0.85" fill="none"/>
<path d="M427.5 307L405 298" stroke="#111" stroke-width="0.85" fill="none"/>
<path d="M427.5 318.7L393 313" stroke="#111" stroke-width="0.85" fill="none"/>
<path d="M427.5 332.5L391.2 324.5" stroke="#111" stroke-width="0.85" fill="none"/>
<path d="M453 351L443.7 366.2" stroke="#111" stroke-width="0.85" fill="none"/>
<path d="M323 353.7L320.5 330" stroke="#111" stroke-width="0.85" fill="none"/>
<path d="M338 358L331.2 333.7" stroke="#111" stroke-width="0.85" fill="none"/>
<path d="M353.9 372.5L377 362.5" stroke="#111" stroke-width="0.85" fill="none"/>
<path d="M351.8 383.7L377 370" stroke="#111" stroke-width="0.85" fill="none"/>
<path d="M353.9 397.5L380 381.6" stroke="#111" stroke-width="0.85" fill="none"/>
<path d="M353.9 411.4L390 395.6" stroke="#111" stroke-width="0.85" fill="none"/>
<path d="M353.9 425.3L390 402.5" stroke="#111" stroke-width="0.85" fill="none"/>
<path d="M353.9 439.3L380 428" stroke="#111" stroke-width="0.85" fill="none"/>
<path d="M353.9 455.6L385.8 442.5" stroke="#111" stroke-width="0.85" fill="none"/>
<path d="M353.9 471.6L384.6 464.2" stroke="#111" stroke-width="0.85" fill="none"/>
<path d="M432.3 408.4L417.2 389" stroke="#111" stroke-width="0.85" fill="none"/>
<path d="M477.3 357.5L474 372.7" stroke="#111" stroke-width="0.85" fill="none"/>
<path d="M490 363.6L484 378" stroke="#111" stroke-width="0.85" fill="none"/>
<path d="M504 368.3L500 383.3" stroke="#111" stroke-width="0.85" fill="none"/>
<path d="M521.3 359L512.5 369.5" stroke="#111" stroke-width="0.85" fill="none"/>
<path d="M537.3 365L525.3 375.9" stroke="#111" stroke-width="0.85" fill="none"/>
<path d="M553.3 389L540 396" stroke="#111" stroke-width="0.85" fill="none"/>
<path d="M569.3 396.3L556 413.2" stroke="#111" stroke-width="0.85" fill="none"/>
<path d="M589.3 401L569.3 421.2" stroke="#111" stroke-width="0.85" fill="none"/>
<text x="129.9" y="10.3">110</text>
<text x="164.6" y="21.3">111</text>
<text x="123.3" y="33.3">112</text>
<text x="124.8" y="71.3">109</text>
<text x="128.3" y="83.8">20</text>
<text x="124.3" y="91.4">113</text>
<text x="124.3" y="103.5">108</text>
<text x="124.3" y="112.3">106</text>
<text x="128" y="120.8">98</text>
<text x="128" y="129.3">67</text>
<text x="124.3" y="137.3">105</text>
<text x="128" y="146.3">76</text>
<text x="128" y="155">77</text>
<text x="128" y="164.3">96</text>
<text x="124.3" y="176">100</text>
<text x="128" y="189.6">98</text>
<text x="249.9" y="132.8">107</text>
<text x="207.1" y="168.3">115</text>
<text x="221.1" y="172.8">116</text>
<text x="236.6" y="177.6">114</text>
<text x="262.9" y="187.1">87</text>
<text x="272.3" y="191">119</text>
<text x="268.7" y="201.1">86</text>
<text x="276.5" y="207.6">192</text>
<text x="290.4" y="211.9">52</text>
<text x="250.9" y="198.3">99</text>
<text x="250.9" y="208.9">98</text>
<text x="249.4" y="218">102</text>
<text x="249.4" y="227.7">101</text>
<text x="250.9" y="237.9">95</text>
<text x="250.9" y="252">93</text>
<text x="250.9" y="263.2">97</text>
<text x="93.1" y="229">88</text>
<text x="84.4" y="234.7">83</text>
<text x="76.9" y="240.3">94</text>
<text x="66.4" y="245.8">89</text>
<text x="53" y="249.8">190</text>
<text x="48.7" y="256.5">87</text>
<text x="33.1" y="261.2">191</text>
<text x="26" y="269.5">86</text>
<text x="11.4" y="275">192</text>
<text x="7.6" y="281.4">52</text>
<text x="123.1" y="285.7">92</text>
<text x="131.7" y="290.3">91</text>
<text x="142.2" y="293.9">90</text>
<text x="151.9" y="296.5">18</text>
<text x="170.7" y="310.9">81</text>
<text x="159.7" y="317.1">80</text>
<text x="149.7" y="323.3">82</text>
<text x="279.4" y="311.9">75</text>
<text x="279.4" y="320">74</text>
<text x="279.1" y="331.6">194</text>
<text x="279.1" y="341.1">195</text>
<text x="282.7" y="353.2">65</text>
<text x="282.7" y="364.8">68</text>
<text x="282.7" y="377.5">67</text>
<text x="282.7" y="394.5">66</text>
<text x="198.4" y="345.2">72</text>
<text x="207.7" y="339.7">73</text>
<text x="220.1" y="365.2">78</text>
<text x="195.8" y="402.9">19</text>
<text x="204.6" y="404.9">20</text>
<text x="212.8" y="406.7">21</text>
<text x="223.4" y="409.8">69</text>
<text x="198.4" y="424.7">71</text>
<text x="133.6" y="334.2">70</text>
<text x="113.4" y="345.9">84</text>
<text x="93.9" y="359.2">83</text>
<text x="83.9" y="364.5">63</text>
<text x="72.9" y="370.2">85</text>
<text x="58.6" y="376.2">193</text>
<text x="155" y="424.2">79</text>
<text x="165.4" y="418.2">21</text>
<text x="428.4" y="311.4">146</text>
<text x="428.4" y="323.2">145</text>
<text x="428.4" y="336.4">144</text>
<text x="445.6" y="350.8">139</text>
<text x="316.1" y="360.2">143</text>
<text x="334.1" y="364.4">142</text>
<text x="340.2" y="376.4">137</text>
<text x="346.9" y="387.5">6</text>
<text x="340.2" y="400.7">138</text>
<text x="340.2" y="414.9">119</text>
<text x="340.2" y="428.2">136</text>
<text x="340.2" y="443">196</text>
<text x="340.2" y="459">197</text>
<text x="340.2" y="474.9">135</text>
<text x="431.4" y="414.4">199</text>
<text x="470.6" y="357.4">198</text>
<text x="483.9" y="363.5">140</text>
<text x="497.8" y="368.2">141</text>
<text x="516.7" y="359">83</text>
<text x="532.7" y="364.9">84</text>
<text x="548.7" y="388.9">63</text>
<text x="565.9" y="396.2">85</text>
<text x="581.8" y="400.9">193</text>
</svg>
</body></html>
